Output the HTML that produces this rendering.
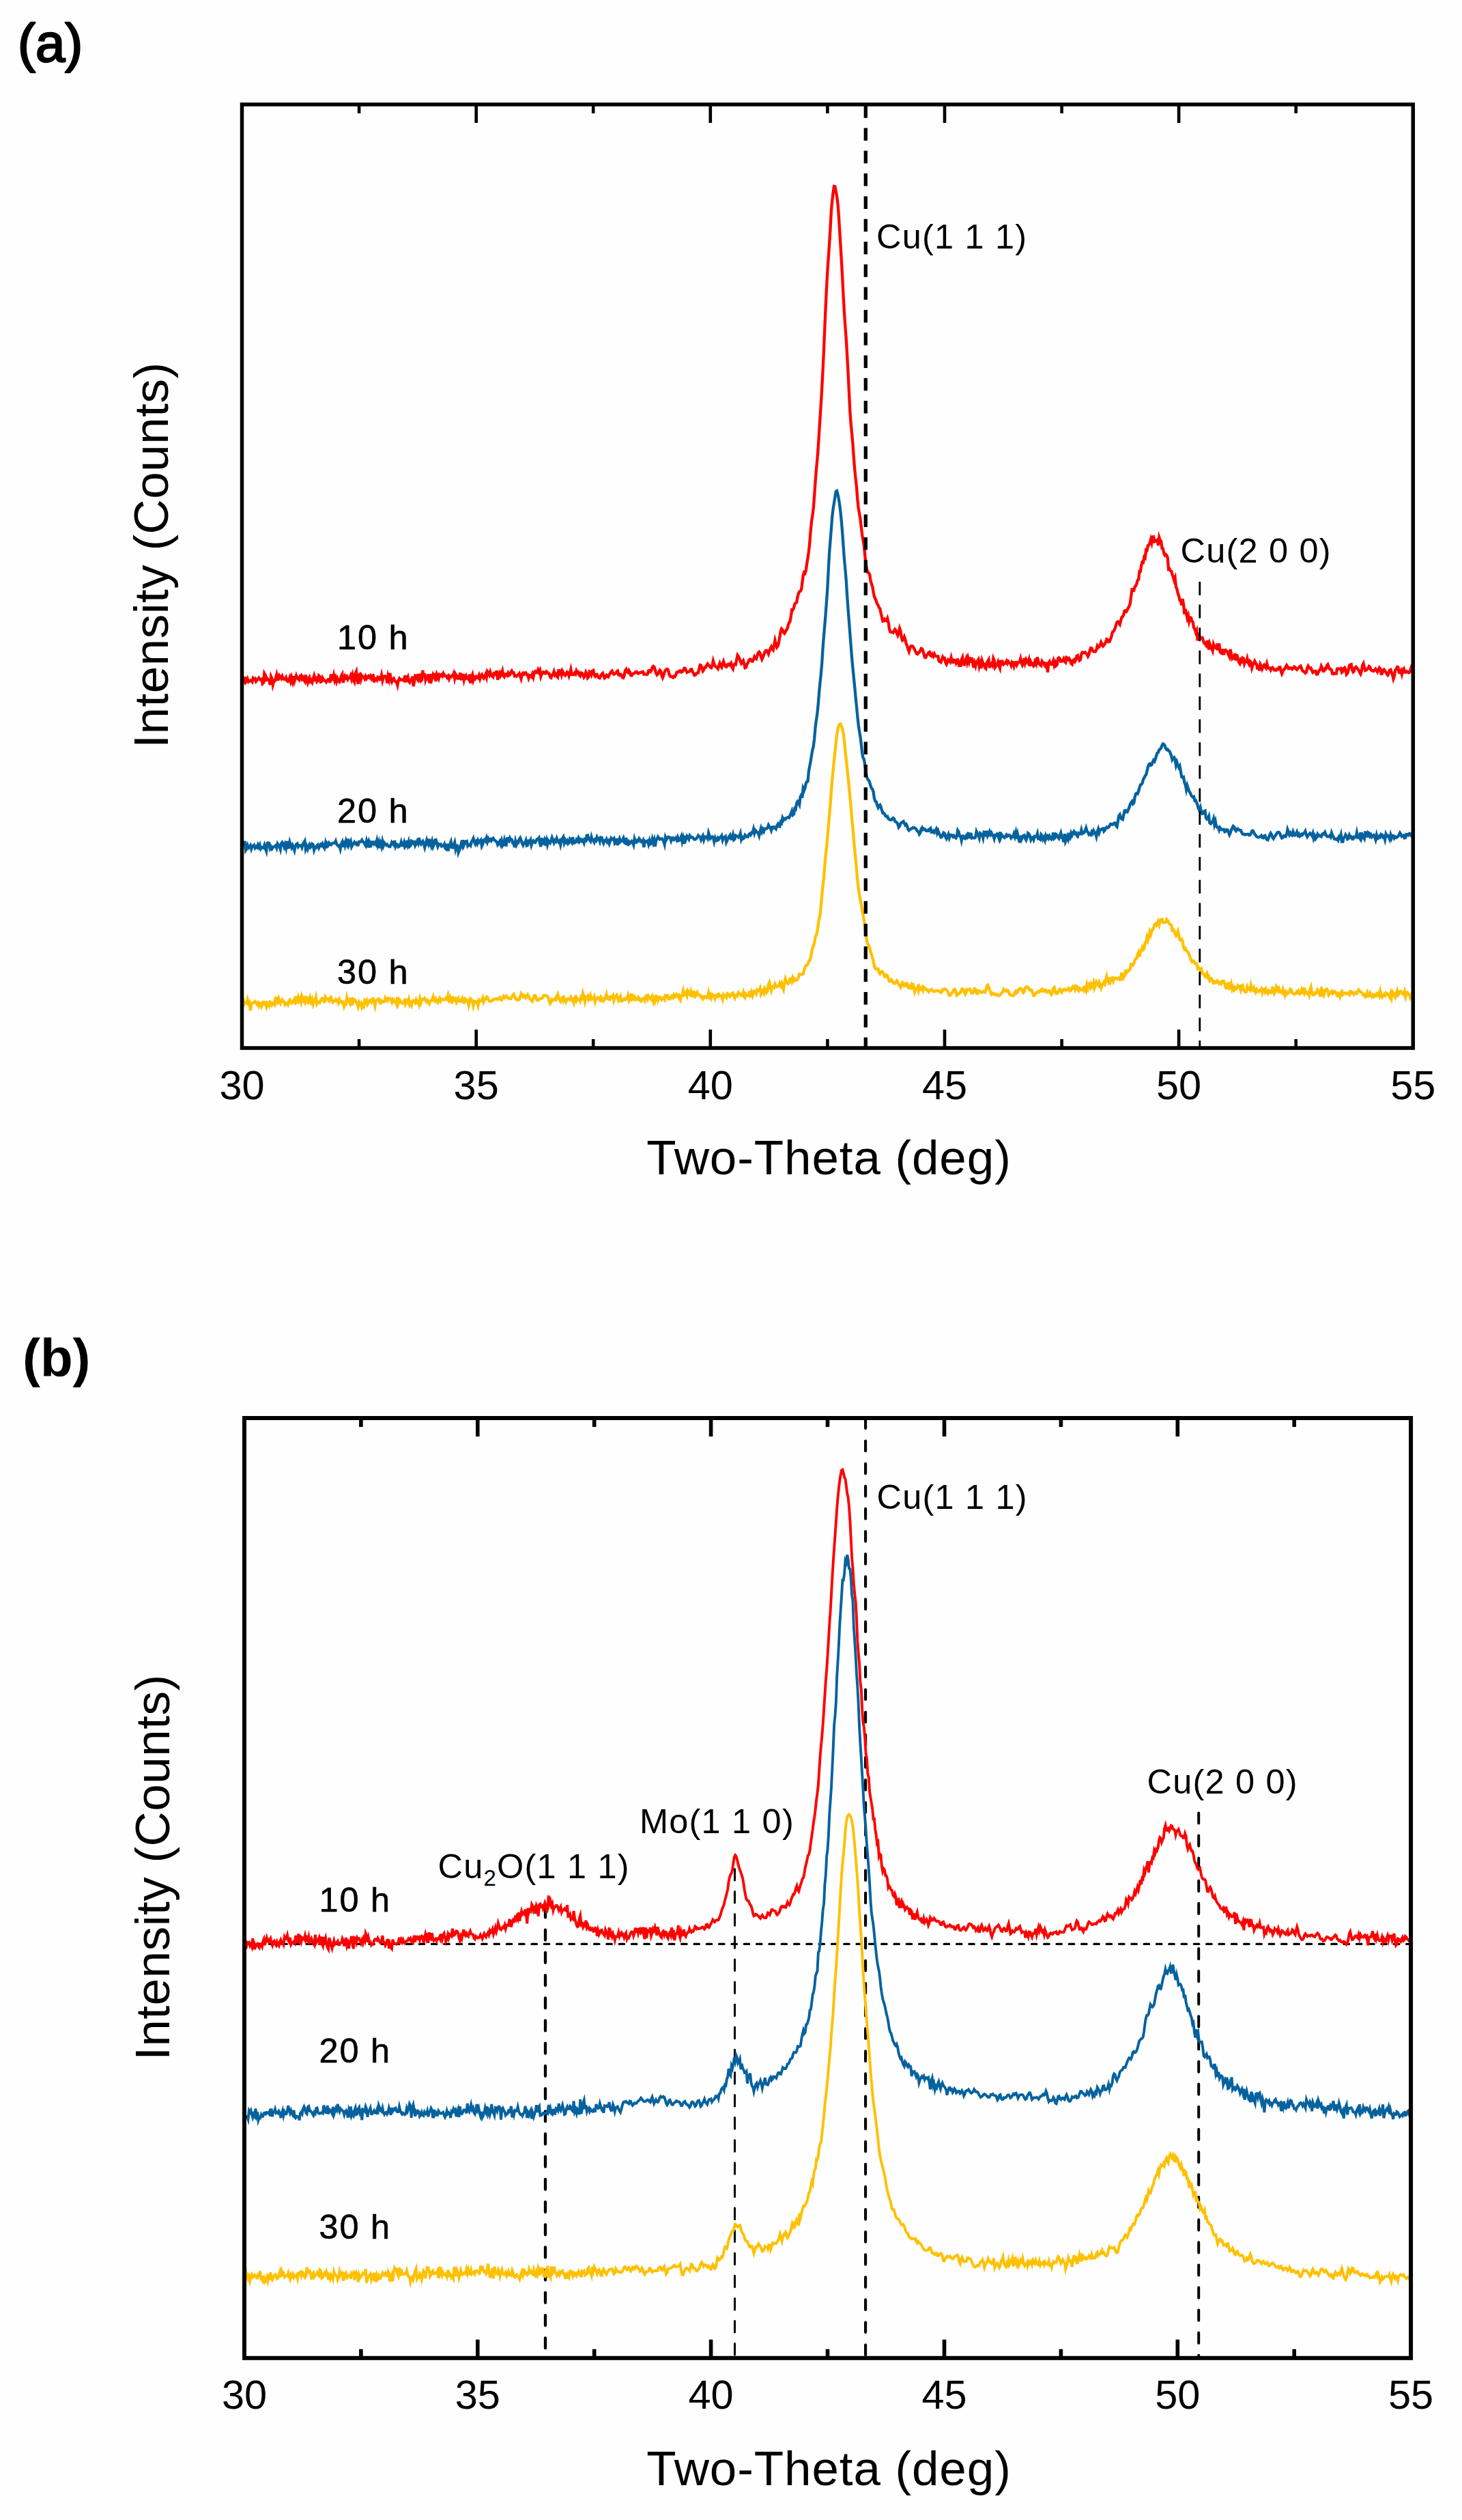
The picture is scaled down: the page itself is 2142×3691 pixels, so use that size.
<!DOCTYPE html>
<html lang="en"><head><meta charset="utf-8"><title>XRD patterns</title>
<style>html,body{margin:0;padding:0;background:#fefefe}svg{display:block}</style></head>
<body>
<svg width="2142" height="3691" viewBox="0 0 2142 3691" font-family="'Liberation Sans', Arial, sans-serif" fill="#000">
<rect width="2142" height="3691" fill="#fefefe"/>
<text x="26" y="90" font-size="78" stroke="#000" stroke-width="2.4" stroke-linejoin="round">(a)</text>
<polyline points="354.5,998.3 355.9,1000.1 357.2,998.2 358.6,991.5 360.0,999.4 361.4,997.7 362.7,994.4 364.1,998.4 365.5,997.3 366.9,997.1 368.2,996.2 369.6,998.3 371.0,993.3 372.3,994.8 373.7,994.0 375.1,998.0 376.5,996.3 377.8,994.8 379.2,992.9 380.6,995.0 382.0,995.7 383.3,994.9 384.7,1001.4 386.1,999.9 387.4,986.3 388.8,988.7 390.2,995.2 391.6,993.8 392.9,995.8 394.3,996.2 395.7,1003.2 397.1,990.9 398.4,993.9 399.8,1003.0 401.2,997.9 402.5,997.7 403.9,993.0 405.3,988.1 406.7,995.2 408.0,994.9 409.4,989.7 410.8,991.6 412.2,993.7 413.5,990.6 414.9,994.4 416.3,995.0 417.6,994.7 419.0,992.4 420.4,997.2 421.8,998.1 423.1,995.7 424.5,992.1 425.9,997.8 427.2,992.5 428.6,997.9 430.0,990.3 431.4,998.0 432.7,994.2 434.1,989.6 435.5,993.2 436.9,994.3 438.2,995.7 439.6,990.3 441.0,989.2 442.3,994.3 443.7,992.3 445.1,995.8 446.5,998.0 447.8,988.4 449.2,995.7 450.6,999.8 452.0,994.2 453.3,992.0 454.7,998.1 456.1,996.4 457.4,999.2 458.8,994.2 460.2,989.7 461.6,994.7 462.9,993.5 464.3,998.4 465.7,997.0 467.1,989.6 468.4,990.9 469.8,998.7 471.2,998.1 472.5,992.8 473.9,995.1 475.3,996.9 476.7,997.2 478.0,998.9 479.4,996.5 480.8,995.1 482.2,995.0 483.5,1000.0 484.9,987.6 486.3,995.4 487.6,995.3 489.0,989.2 490.4,996.5 491.8,992.7 493.1,998.3 494.5,994.0 495.9,997.3 497.3,998.7 498.6,995.3 500.0,990.0 501.4,987.5 502.7,1000.1 504.1,993.2 505.5,990.1 506.9,992.9 508.2,991.2 509.6,995.0 511.0,992.5 512.4,992.7 513.7,989.5 515.1,994.6 516.5,989.1 517.8,996.0 519.2,998.7 520.6,986.8 522.0,983.5 523.3,995.0 524.7,1001.9 526.1,988.4 527.5,987.4 528.8,994.8 530.2,989.7 531.6,991.5 532.9,991.2 534.3,993.9 535.7,990.6 537.1,994.0 538.4,992.2 539.8,990.3 541.2,992.2 542.6,990.1 543.9,993.4 545.3,989.5 546.7,989.2 548.0,999.4 549.4,993.9 550.8,993.7 552.2,995.8 553.5,991.7 554.9,992.1 556.3,995.2 557.7,994.5 559.0,988.9 560.4,996.7 561.8,991.8 563.1,990.4 564.5,990.6 565.9,992.5 567.3,1000.6 568.6,990.5 570.0,995.4 571.4,985.9 572.7,994.9 574.1,998.5 575.5,995.1 576.9,993.7 578.2,996.9 579.6,998.5 581.0,998.6 582.4,1003.6 583.7,996.8 585.1,993.8 586.5,995.6 587.8,995.5 589.2,996.1 590.6,995.5 592.0,996.8 593.3,989.3 594.7,999.1 596.1,993.5 597.5,991.1 598.8,997.6 600.2,999.5 601.6,996.4 602.9,995.3 604.3,990.8 605.7,1005.2 607.1,997.5 608.4,989.8 609.8,990.6 611.2,993.5 612.6,987.2 613.9,994.5 615.3,991.4 616.7,997.3 618.0,996.0 619.4,981.9 620.8,992.4 622.2,986.2 623.5,996.2 624.9,992.5 626.3,993.8 627.7,987.4 629.0,998.7 630.4,999.1 631.8,987.3 633.1,993.1 634.5,988.0 635.9,990.9 637.3,986.0 638.6,997.9 640.0,987.4 641.4,990.0 642.8,993.6 644.1,988.5 645.5,989.8 646.9,988.4 648.2,990.2 649.6,986.4 651.0,988.9 652.4,990.1 653.7,990.4 655.1,992.4 656.5,990.3 657.9,994.3 659.2,990.6 660.6,991.6 662.0,989.9 663.3,990.2 664.7,986.6 666.1,993.6 667.5,987.4 668.8,989.6 670.2,993.5 671.6,993.7 673.0,991.0 674.3,985.4 675.7,994.4 677.1,994.1 678.4,987.2 679.8,995.8 681.2,990.5 682.6,989.1 683.9,993.5 685.3,993.0 686.7,995.0 688.1,987.7 689.4,1000.9 690.8,991.7 692.2,988.1 693.5,996.2 694.9,992.2 696.3,994.0 697.7,991.1 699.0,992.3 700.4,993.1 701.8,989.2 703.2,994.1 704.5,990.1 705.9,988.2 707.3,991.7 708.6,993.4 710.0,990.3 711.4,987.5 712.8,992.0 714.1,983.4 715.5,985.1 716.9,988.3 718.2,984.3 719.6,989.2 721.0,990.2 722.4,991.6 723.7,985.9 725.1,985.5 726.5,987.4 727.9,982.2 729.2,995.9 730.6,987.3 732.0,985.2 733.3,989.6 734.7,986.7 736.1,982.5 737.5,989.7 738.8,991.3 740.2,987.4 741.6,987.2 743.0,989.0 744.3,986.0 745.7,989.2 747.1,988.5 748.4,984.8 749.8,982.7 751.2,985.3 752.6,985.4 753.9,990.1 755.3,989.6 756.7,990.6 758.1,989.1 759.4,987.9 760.8,986.3 762.2,990.6 763.5,994.2 764.9,987.9 766.3,985.9 767.7,987.4 769.0,985.6 770.4,985.4 771.8,988.3 773.2,988.2 774.5,993.1 775.9,989.3 777.3,989.6 778.6,991.1 780.0,987.2 781.4,991.6 782.8,984.8 784.1,983.3 785.5,985.0 786.9,984.9 788.3,981.0 789.6,984.2 791.0,981.6 792.4,990.8 793.7,987.3 795.1,984.7 796.5,984.4 797.9,986.2 799.2,986.4 800.6,983.6 802.0,984.7 803.4,986.4 804.7,986.8 806.1,991.7 807.5,992.6 808.8,988.7 810.2,987.9 811.6,983.8 813.0,988.7 814.3,987.3 815.7,990.3 817.1,991.8 818.5,980.6 819.8,986.2 821.2,984.2 822.6,988.5 823.9,982.5 825.3,984.9 826.7,988.1 828.1,989.3 829.4,987.4 830.8,984.4 832.2,985.6 833.6,990.0 834.9,986.1 836.3,980.5 837.7,987.7 839.0,987.8 840.4,988.1 841.8,985.8 843.2,987.4 844.5,982.5 845.9,985.5 847.3,984.6 848.7,988.6 850.0,990.0 851.4,985.5 852.8,986.0 854.1,988.2 855.5,991.8 856.9,989.5 858.3,984.7 859.6,987.7 861.0,993.0 862.4,991.3 863.7,983.7 865.1,984.4 866.5,988.0 867.9,982.8 869.2,982.0 870.6,988.2 872.0,990.4 873.4,988.2 874.7,987.7 876.1,991.3 877.5,992.9 878.8,993.1 880.2,989.8 881.6,987.5 883.0,986.0 884.3,989.5 885.7,993.0 887.1,991.6 888.5,989.2 889.8,990.9 891.2,991.6 892.6,988.3 893.9,986.5 895.3,983.9 896.7,982.7 898.1,985.8 899.4,987.5 900.8,986.9 902.2,986.0 903.6,983.6 904.9,982.6 906.3,988.4 907.7,989.1 909.0,987.6 910.4,988.2 911.8,992.2 913.2,992.8 914.5,989.6 915.9,982.5 917.3,980.4 918.7,983.8 920.0,984.9 921.4,981.9 922.8,984.3 924.1,989.0 925.5,989.4 926.9,987.1 928.3,986.5 929.6,986.0 931.0,984.3 932.4,983.8 933.8,985.8 935.1,986.5 936.5,985.6 937.9,985.2 939.2,984.9 940.6,984.0 942.0,983.8 943.4,987.5 944.7,987.3 946.1,987.6 947.5,988.1 948.9,987.1 950.2,982.3 951.6,982.2 953.0,983.9 954.3,982.3 955.7,977.3 957.1,975.8 958.5,976.8 959.8,981.0 961.2,985.9 962.6,988.6 964.0,987.3 965.3,984.1 966.7,981.6 968.1,983.1 969.4,989.2 970.8,992.7 972.2,989.2 973.6,984.2 974.9,982.0 976.3,980.1 977.7,979.8 979.1,981.7 980.4,987.5 981.8,990.6 983.2,990.7 984.5,991.5 985.9,992.4 987.3,990.5 988.7,991.2 990.0,989.1 991.4,984.9 992.8,984.0 994.2,984.2 995.5,982.7 996.9,982.6 998.3,984.5 999.6,983.8 1001.0,981.9 1002.4,978.8 1003.8,978.9 1005.1,982.0 1006.5,984.8 1007.9,984.1 1009.2,984.0 1010.6,983.0 1012.0,980.4 1013.4,980.3 1014.7,984.2 1016.1,985.9 1017.5,989.1 1018.9,988.7 1020.2,986.6 1021.6,985.5 1023.0,985.3 1024.3,979.8 1025.7,974.1 1027.1,974.6 1028.5,979.1 1029.8,982.9 1031.2,980.9 1032.6,977.5 1034.0,977.4 1035.3,974.4 1036.7,972.2 1038.1,974.1 1039.4,975.5 1040.8,977.3 1042.2,978.1 1043.6,974.1 1044.9,967.9 1046.3,972.6 1047.7,975.6 1049.1,976.8 1050.4,977.8 1051.8,979.5 1053.2,975.0 1054.5,971.4 1055.9,975.0 1057.3,977.2 1058.7,972.3 1060.0,968.7 1061.4,973.3 1062.8,976.1 1064.2,976.8 1065.5,973.6 1066.9,972.8 1068.3,974.1 1069.6,972.3 1071.0,970.9 1072.4,977.5 1073.8,979.7 1075.1,973.6 1076.5,972.7 1077.9,973.3 1079.3,965.9 1080.6,959.6 1082.0,961.5 1083.4,964.6 1084.7,968.4 1086.1,971.7 1087.5,969.8 1088.9,967.6 1090.2,972.0 1091.6,978.1 1093.0,977.6 1094.4,972.9 1095.7,971.2 1097.1,967.3 1098.5,965.6 1099.8,965.6 1101.2,968.4 1102.6,968.6 1104.0,966.2 1105.3,961.9 1106.7,963.9 1108.1,964.9 1109.5,959.8 1110.8,956.4 1112.2,954.9 1113.6,956.9 1114.9,962.1 1116.3,965.7 1117.7,962.7 1119.1,959.0 1120.4,955.5 1121.8,953.0 1123.2,952.8 1124.6,955.1 1125.9,957.9 1127.3,953.7 1128.7,949.8 1130.0,947.3 1131.4,950.5 1132.8,952.1 1134.2,944.9 1135.5,937.9 1136.9,943.2 1138.3,947.9 1139.7,946.0 1141.0,941.2 1142.4,932.8 1143.8,924.5 1145.1,921.0 1146.5,922.5 1147.9,926.0 1149.3,927.8 1150.6,925.6 1152.0,923.2 1153.4,920.8 1154.7,915.9 1156.1,912.0 1157.5,910.5 1158.9,902.1 1160.2,893.1 1161.6,893.4 1163.0,890.6 1164.4,884.5 1165.7,883.1 1167.1,882.3 1168.5,874.4 1169.8,869.5 1171.2,866.5 1172.6,866.0 1174.0,864.0 1175.3,854.5 1176.7,842.8 1178.1,838.3 1179.5,839.6 1180.8,835.6 1182.2,825.4 1183.6,816.6 1184.9,808.3 1186.3,795.1 1187.7,777.2 1189.1,763.1 1190.4,755.2 1191.8,743.9 1193.2,725.6 1194.6,704.8 1195.9,688.6 1197.3,673.8 1198.7,656.8 1200.0,635.4 1201.4,614.0 1202.8,592.4 1204.2,568.7 1205.5,544.0 1206.9,514.5 1208.3,480.9 1209.7,448.8 1211.0,421.7 1212.4,397.0 1213.8,376.3 1215.1,357.6 1216.5,334.8 1217.9,308.6 1219.3,293.7 1220.6,282.4 1222.0,272.9 1223.4,273.3 1224.8,280.7 1226.1,287.4 1227.5,298.2 1228.9,316.7 1230.2,338.3 1231.6,360.4 1233.0,384.3 1234.4,409.6 1235.7,435.8 1237.1,459.4 1238.5,479.7 1239.9,498.5 1241.2,521.2 1242.6,546.5 1244.0,575.3 1245.3,601.6 1246.7,620.8 1248.1,635.2 1249.5,650.9 1250.8,669.4 1252.2,687.1 1253.6,700.9 1255.0,713.5 1256.3,730.7 1257.7,744.3 1259.1,752.4 1260.4,759.7 1261.8,772.0 1263.2,783.6 1264.6,791.8 1265.9,798.7 1267.3,813.9 1268.7,827.2 1270.1,834.0 1271.4,838.4 1272.8,838.9 1274.2,841.7 1275.5,850.2 1276.9,855.3 1278.3,859.0 1279.7,868.2 1281.0,873.9 1282.4,877.0 1283.8,880.0 1285.1,884.6 1286.5,886.3 1287.9,890.0 1289.3,891.3 1290.6,897.8 1292.0,904.0 1293.4,909.7 1294.8,909.3 1296.1,907.1 1297.5,908.8 1298.9,909.3 1300.2,905.9 1301.6,911.3 1303.0,921.5 1304.4,925.5 1305.7,925.7 1307.1,926.0 1308.5,926.7 1309.9,924.4 1311.2,921.8 1312.6,923.3 1314.0,927.8 1315.3,930.6 1316.7,926.8 1318.1,920.4 1319.5,924.5 1320.8,933.7 1322.2,937.9 1323.6,937.0 1325.0,933.1 1326.3,936.7 1327.7,942.9 1329.1,946.0 1330.4,950.6 1331.8,954.3 1333.2,949.1 1334.6,946.4 1335.9,946.1 1337.3,946.4 1338.7,948.7 1340.1,951.7 1341.4,954.4 1342.8,957.4 1344.2,958.0 1345.5,955.8 1346.9,955.6 1348.3,952.6 1349.7,949.9 1351.0,950.5 1352.4,953.3 1353.8,959.4 1355.2,963.0 1356.5,962.8 1357.9,959.3 1359.3,958.3 1360.6,955.6 1362.0,955.0 1363.4,960.3 1364.8,961.0 1366.1,958.4 1367.5,961.1 1368.9,957.9 1370.3,960.9 1371.6,961.2 1373.0,961.4 1374.4,961.4 1375.7,968.4 1377.1,968.9 1378.5,970.0 1379.9,966.2 1381.2,962.3 1382.6,964.5 1384.0,964.0 1385.4,970.4 1386.7,972.9 1388.1,970.1 1389.5,966.1 1390.8,967.0 1392.2,969.2 1393.6,963.5 1395.0,969.5 1396.3,969.9 1397.7,966.8 1399.1,967.4 1400.5,970.8 1401.8,966.7 1403.2,966.4 1404.6,972.8 1405.9,971.0 1407.3,976.6 1408.7,966.3 1410.1,963.0 1411.4,972.7 1412.8,973.3 1414.2,967.3 1415.6,964.0 1416.9,970.0 1418.3,963.8 1419.7,969.0 1421.0,962.5 1422.4,970.6 1423.8,963.2 1425.2,971.0 1426.5,977.9 1427.9,971.1 1429.3,975.3 1430.6,969.3 1432.0,968.5 1433.4,966.1 1434.8,976.1 1436.1,972.1 1437.5,978.8 1438.9,967.7 1440.3,971.7 1441.6,972.7 1443.0,977.9 1444.4,979.3 1445.7,970.5 1447.1,968.7 1448.5,966.2 1449.9,978.2 1451.2,973.4 1452.6,971.8 1454.0,974.3 1455.4,964.4 1456.7,967.4 1458.1,977.3 1459.5,975.0 1460.8,973.7 1462.2,969.8 1463.6,975.1 1465.0,978.7 1466.3,967.1 1467.7,971.9 1469.1,969.9 1470.5,973.0 1471.8,971.6 1473.2,971.2 1474.6,968.3 1475.9,971.6 1477.3,969.1 1478.7,971.1 1480.1,971.5 1481.4,974.7 1482.8,969.6 1484.2,970.7 1485.6,975.5 1486.9,970.6 1488.3,970.2 1489.7,974.1 1491.0,971.3 1492.4,969.8 1493.8,969.8 1495.2,964.7 1496.5,970.6 1497.9,974.2 1499.3,971.5 1500.7,963.9 1502.0,971.0 1503.4,966.3 1504.8,969.2 1506.1,971.0 1507.5,966.4 1508.9,975.7 1510.3,969.8 1511.6,972.8 1513.0,972.2 1514.4,975.6 1515.8,974.6 1517.1,964.4 1518.5,970.2 1519.9,962.4 1521.2,968.6 1522.6,972.7 1524.0,973.6 1525.4,974.8 1526.7,968.6 1528.1,970.7 1529.5,970.9 1530.9,975.3 1532.2,976.6 1533.6,970.0 1535.0,984.7 1536.3,971.3 1537.7,968.9 1539.1,972.7 1540.5,973.1 1541.8,971.4 1543.2,967.6 1544.6,974.5 1546.0,970.8 1547.3,975.1 1548.7,973.8 1550.1,964.4 1551.4,963.3 1552.8,964.6 1554.2,968.6 1555.6,968.7 1556.9,967.7 1558.3,965.0 1559.7,968.7 1561.1,970.2 1562.4,963.0 1563.8,963.7 1565.2,966.1 1566.5,964.7 1567.9,967.1 1569.3,971.9 1570.7,973.1 1572.0,967.4 1573.4,966.3 1574.8,968.9 1576.1,966.7 1577.5,960.8 1578.9,960.0 1580.3,964.6 1581.6,967.5 1583.0,966.2 1584.4,957.7 1585.8,955.4 1587.1,956.2 1588.5,955.9 1589.9,955.3 1591.2,957.0 1592.6,958.3 1594.0,961.3 1595.4,958.6 1596.7,952.6 1598.1,949.0 1599.5,949.4 1600.9,953.4 1602.2,954.2 1603.6,954.1 1605.0,954.2 1606.3,951.8 1607.7,946.2 1609.1,948.4 1610.5,947.5 1611.8,944.5 1613.2,940.7 1614.6,943.7 1616.0,946.4 1617.3,945.1 1618.7,942.9 1620.1,940.3 1621.4,936.2 1622.8,936.8 1624.2,940.1 1625.6,939.9 1626.9,936.6 1628.3,932.7 1629.7,926.3 1631.1,924.8 1632.4,923.3 1633.8,919.7 1635.2,915.2 1636.5,911.2 1637.9,910.5 1639.3,912.5 1640.7,914.6 1642.0,909.4 1643.4,904.2 1644.8,903.3 1646.2,900.6 1647.5,894.7 1648.9,894.4 1650.3,895.6 1651.6,893.1 1653.0,890.6 1654.4,888.0 1655.8,883.9 1657.1,873.7 1658.5,863.5 1659.9,863.7 1661.3,864.4 1662.6,859.7 1664.0,857.8 1665.4,854.9 1666.7,850.0 1668.1,848.9 1669.5,836.8 1670.9,836.8 1672.2,828.5 1673.6,823.2 1675.0,823.7 1676.4,815.8 1677.7,817.0 1679.1,805.4 1680.5,805.9 1681.8,799.0 1683.2,798.4 1684.6,795.5 1686.0,790.2 1687.3,794.8 1688.7,786.3 1690.1,786.1 1691.5,793.1 1692.8,792.5 1694.2,791.7 1695.6,790.7 1696.9,799.0 1698.3,787.0 1699.7,791.1 1701.1,792.5 1702.4,802.9 1703.8,803.2 1705.2,809.9 1706.6,813.2 1707.9,811.9 1709.3,813.4 1710.7,816.9 1712.0,833.6 1713.4,833.0 1714.8,835.9 1716.2,836.5 1717.5,841.6 1718.9,845.3 1720.3,850.1 1721.6,846.7 1723.0,859.8 1724.4,863.0 1725.8,869.4 1727.1,872.6 1728.5,879.2 1729.9,880.3 1731.3,886.4 1732.6,877.1 1734.0,885.3 1735.4,899.7 1736.7,892.0 1738.1,898.6 1739.5,905.5 1740.9,901.6 1742.2,909.9 1743.6,904.4 1745.0,904.9 1746.4,909.9 1747.7,911.0 1749.1,919.5 1750.5,921.2 1751.8,925.9 1753.2,923.1 1754.6,938.4 1756.0,930.0 1757.3,931.7 1758.7,935.0 1760.1,934.4 1761.5,934.1 1762.8,937.9 1764.2,942.1 1765.6,942.9 1766.9,945.0 1768.3,940.0 1769.7,939.9 1771.1,951.5 1772.4,943.1 1773.8,947.3 1775.2,949.7 1776.6,953.2 1777.9,943.9 1779.3,947.8 1780.7,948.7 1782.0,949.6 1783.4,942.6 1784.8,952.4 1786.2,942.4 1787.5,954.6 1788.9,956.2 1790.3,957.0 1791.7,950.7 1793.0,959.1 1794.4,952.6 1795.8,952.1 1797.1,953.6 1798.5,954.9 1799.9,959.0 1801.3,962.0 1802.6,951.1 1804.0,958.0 1805.4,964.3 1806.8,962.4 1808.1,963.7 1809.5,957.0 1810.9,967.5 1812.2,958.3 1813.6,965.3 1815.0,969.7 1816.4,971.8 1817.7,966.5 1819.1,968.4 1820.5,963.7 1821.9,964.6 1823.2,972.0 1824.6,968.4 1826.0,968.9 1827.3,964.3 1828.7,970.4 1830.1,973.1 1831.5,968.5 1832.8,969.8 1834.2,978.1 1835.6,973.6 1837.0,972.1 1838.3,968.5 1839.7,971.3 1841.1,973.2 1842.4,980.4 1843.8,973.8 1845.2,982.5 1846.6,972.9 1847.9,975.3 1849.3,979.6 1850.7,976.0 1852.1,974.0 1853.4,976.4 1854.8,978.4 1856.2,972.2 1857.5,977.1 1858.9,978.7 1860.3,978.6 1861.7,981.3 1863.0,978.4 1864.4,977.7 1865.8,979.6 1867.1,981.4 1868.5,980.7 1869.9,981.6 1871.3,979.8 1872.6,980.1 1874.0,977.5 1875.4,977.2 1876.8,983.2 1878.1,986.8 1879.5,983.6 1880.9,980.5 1882.2,979.9 1883.6,977.0 1885.0,974.4 1886.4,976.4 1887.7,979.2 1889.1,979.1 1890.5,978.1 1891.9,978.5 1893.2,980.2 1894.6,979.3 1896.0,976.6 1897.3,977.0 1898.7,979.5 1900.1,980.8 1901.5,979.0 1902.8,978.2 1904.2,976.4 1905.6,975.5 1907.0,979.0 1908.3,982.5 1909.7,983.5 1911.1,983.9 1912.4,985.9 1913.8,985.0 1915.2,978.7 1916.6,975.5 1917.9,977.8 1919.3,979.0 1920.7,978.5 1922.1,982.1 1923.4,984.8 1924.8,983.7 1926.2,983.0 1927.5,983.0 1928.9,987.5 1930.3,987.4 1931.7,984.1 1933.0,981.8 1934.4,980.8 1935.8,975.7 1937.2,978.7 1938.5,982.9 1939.9,982.9 1941.3,979.3 1942.6,979.5 1944.0,974.9 1945.4,973.3 1946.8,977.2 1948.1,979.9 1949.5,980.0 1950.9,981.4 1952.3,987.1 1953.6,987.3 1955.0,986.3 1956.4,986.6 1957.7,986.6 1959.1,979.5 1960.5,979.2 1961.9,979.9 1963.2,979.5 1964.6,979.0 1966.0,984.8 1967.4,983.6 1968.7,979.0 1970.1,977.9 1971.5,981.0 1972.8,987.8 1974.2,986.2 1975.6,981.5 1977.0,974.6 1978.3,973.6 1979.7,973.1 1981.1,980.8 1982.5,984.3 1983.8,983.2 1985.2,977.7 1986.6,976.7 1987.9,978.5 1989.3,979.6 1990.7,981.7 1992.1,985.1 1993.4,987.3 1994.8,982.8 1996.2,974.5 1997.6,971.8 1998.9,977.3 2000.3,982.1 2001.7,981.5 2003.0,979.7 2004.4,979.1 2005.8,975.9 2007.2,976.8 2008.5,981.1 2009.9,982.2 2011.3,982.1 2012.6,983.0 2014.0,981.6 2015.4,979.8 2016.8,982.0 2018.1,984.2 2019.5,981.3 2020.9,978.1 2022.3,979.6 2023.6,986.9 2025.0,986.6 2026.4,981.8 2027.7,980.7 2029.1,982.5 2030.5,984.5 2031.9,987.2 2033.2,988.7 2034.6,985.9 2036.0,981.5 2037.4,980.9 2038.7,984.5 2040.1,988.4 2041.5,994.2 2042.8,990.4 2044.2,981.5 2045.6,980.5 2047.0,977.0 2048.3,977.2 2049.7,984.9 2051.1,985.3 2052.5,982.7 2053.8,987.3 2055.2,980.7 2056.6,979.3 2057.9,984.6 2059.3,984.8 2060.7,983.2 2062.1,984.1 2063.4,985.2 2064.8,985.0 2066.2,982.3 2067.6,977.6 2068.9,980.1 2070.3,986.2" fill="none" stroke="#FF0000" stroke-width="4.3" stroke-linejoin="miter" stroke-miterlimit="5"/>
<polyline points="354.5,1240.0 355.9,1237.5 357.2,1238.0 358.6,1232.0 360.0,1245.3 361.4,1243.0 362.7,1238.2 364.1,1241.9 365.5,1240.7 366.9,1238.5 368.2,1243.2 369.6,1239.2 371.0,1239.6 372.3,1238.0 373.7,1242.1 375.1,1240.3 376.5,1241.3 377.8,1237.6 379.2,1240.7 380.6,1237.6 382.0,1243.1 383.3,1241.2 384.7,1241.6 386.1,1242.1 387.4,1238.1 388.8,1242.8 390.2,1246.6 391.6,1234.9 392.9,1234.3 394.3,1235.1 395.7,1242.7 397.1,1240.4 398.4,1243.4 399.8,1241.7 401.2,1240.0 402.5,1239.8 403.9,1238.6 405.3,1241.9 406.7,1235.7 408.0,1237.6 409.4,1239.3 410.8,1243.8 412.2,1235.4 413.5,1233.6 414.9,1235.6 416.3,1240.3 417.6,1236.8 419.0,1241.9 420.4,1232.0 421.8,1241.5 423.1,1241.2 424.5,1233.6 425.9,1238.2 427.2,1241.5 428.6,1238.0 430.0,1241.1 431.4,1245.5 432.7,1239.2 434.1,1236.6 435.5,1235.7 436.9,1240.1 438.2,1238.1 439.6,1238.4 441.0,1238.6 442.3,1241.4 443.7,1235.8 445.1,1234.5 446.5,1232.0 447.8,1243.3 449.2,1239.5 450.6,1243.5 452.0,1238.9 453.3,1236.9 454.7,1241.3 456.1,1240.1 457.4,1236.2 458.8,1237.3 460.2,1245.1 461.6,1241.1 462.9,1241.6 464.3,1238.9 465.7,1237.5 467.1,1241.8 468.4,1238.8 469.8,1236.8 471.2,1238.5 472.5,1235.9 473.9,1239.4 475.3,1242.1 476.7,1235.7 478.0,1242.4 479.4,1235.8 480.8,1237.9 482.2,1234.7 483.5,1236.7 484.9,1237.5 486.3,1235.9 487.6,1234.9 489.0,1234.8 490.4,1234.7 491.8,1231.8 493.1,1236.1 494.5,1238.1 495.9,1239.3 497.3,1238.4 498.6,1243.3 500.0,1236.5 501.4,1233.4 502.7,1240.9 504.1,1231.3 505.5,1237.7 506.9,1231.8 508.2,1235.6 509.6,1228.7 511.0,1237.8 512.4,1234.6 513.7,1232.0 515.1,1240.1 516.5,1237.4 517.8,1235.5 519.2,1233.4 520.6,1235.7 522.0,1234.7 523.3,1237.5 524.7,1237.5 526.1,1232.9 527.5,1233.1 528.8,1232.8 530.2,1230.4 531.6,1232.6 532.9,1233.4 534.3,1236.1 535.7,1238.4 537.1,1231.7 538.4,1236.3 539.8,1232.9 541.2,1241.3 542.6,1234.8 543.9,1237.2 545.3,1233.3 546.7,1233.3 548.0,1236.1 549.4,1234.3 550.8,1236.6 552.2,1231.1 553.5,1237.8 554.9,1233.5 556.3,1241.9 557.7,1235.8 559.0,1240.1 560.4,1232.4 561.8,1238.3 563.1,1234.5 564.5,1236.3 565.9,1237.9 567.3,1236.8 568.6,1238.8 570.0,1239.9 571.4,1240.1 572.7,1237.9 574.1,1233.7 575.5,1235.4 576.9,1237.3 578.2,1231.2 579.6,1239.6 581.0,1236.5 582.4,1236.9 583.7,1240.3 585.1,1239.5 586.5,1238.0 587.8,1233.4 589.2,1238.2 590.6,1238.5 592.0,1234.3 593.3,1240.7 594.7,1239.0 596.1,1231.0 597.5,1237.3 598.8,1232.7 600.2,1239.6 601.6,1238.3 602.9,1231.8 604.3,1232.5 605.7,1235.0 607.1,1233.7 608.4,1238.5 609.8,1235.9 611.2,1232.3 612.6,1235.2 613.9,1227.2 615.3,1234.5 616.7,1236.4 618.0,1233.6 619.4,1232.1 620.8,1236.0 622.2,1241.1 623.5,1235.9 624.9,1231.5 626.3,1239.2 627.7,1228.7 629.0,1236.3 630.4,1233.5 631.8,1238.3 633.1,1232.9 634.5,1239.9 635.9,1236.6 637.3,1230.4 638.6,1230.0 640.0,1235.1 641.4,1239.8 642.8,1236.2 644.1,1236.9 645.5,1236.4 646.9,1239.5 648.2,1238.9 649.6,1239.3 651.0,1236.6 652.4,1242.6 653.7,1243.6 655.1,1235.8 656.5,1246.2 657.9,1240.6 659.2,1236.9 660.6,1233.1 662.0,1241.1 663.3,1241.4 664.7,1237.6 666.1,1233.8 667.5,1243.3 668.8,1238.4 670.2,1238.8 671.6,1248.7 673.0,1245.1 674.3,1241.2 675.7,1235.9 677.1,1239.2 678.4,1230.3 679.8,1237.5 681.2,1234.1 682.6,1232.3 683.9,1231.9 685.3,1238.8 686.7,1237.1 688.1,1237.2 689.4,1238.6 690.8,1232.9 692.2,1230.9 693.5,1228.0 694.9,1233.1 696.3,1236.2 697.7,1233.0 699.0,1235.7 700.4,1230.9 701.8,1233.7 703.2,1232.0 704.5,1230.4 705.9,1239.2 707.3,1236.2 708.6,1230.8 710.0,1229.6 711.4,1231.7 712.8,1227.5 714.1,1232.7 715.5,1228.5 716.9,1231.0 718.2,1229.6 719.6,1231.4 721.0,1228.5 722.4,1227.6 723.7,1230.1 725.1,1230.8 726.5,1232.1 727.9,1233.2 729.2,1237.3 730.6,1235.4 732.0,1232.6 733.3,1236.1 734.7,1231.4 736.1,1238.6 737.5,1236.3 738.8,1230.9 740.2,1237.5 741.6,1237.7 743.0,1226.4 744.3,1231.7 745.7,1232.4 747.1,1227.6 748.4,1229.9 749.8,1229.9 751.2,1234.5 752.6,1233.9 753.9,1241.1 755.3,1231.9 756.7,1236.7 758.1,1233.1 759.4,1233.9 760.8,1229.3 762.2,1227.3 763.5,1230.4 764.9,1235.0 766.3,1237.9 767.7,1234.8 769.0,1234.7 770.4,1231.1 771.8,1238.5 773.2,1237.8 774.5,1232.1 775.9,1233.1 777.3,1230.3 778.6,1237.7 780.0,1233.6 781.4,1231.6 782.8,1233.4 784.1,1234.0 785.5,1231.4 786.9,1229.1 788.3,1229.3 789.6,1227.4 791.0,1234.7 792.4,1240.1 793.7,1227.5 795.1,1233.9 796.5,1235.2 797.9,1230.3 799.2,1234.0 800.6,1229.9 802.0,1236.9 803.4,1231.2 804.7,1232.8 806.1,1234.7 807.5,1231.8 808.8,1227.0 810.2,1230.6 811.6,1234.4 813.0,1231.0 814.3,1232.4 815.7,1228.1 817.1,1232.0 818.5,1233.7 819.8,1231.8 821.2,1237.2 822.6,1230.5 823.9,1228.0 825.3,1225.8 826.7,1234.4 828.1,1230.7 829.4,1233.3 830.8,1231.4 832.2,1235.6 833.6,1234.3 834.9,1229.2 836.3,1231.3 837.7,1233.6 839.0,1226.1 840.4,1234.9 841.8,1234.6 843.2,1233.7 844.5,1230.1 845.9,1231.8 847.3,1227.9 848.7,1232.1 850.0,1229.5 851.4,1231.7 852.8,1230.1 854.1,1231.8 855.5,1234.7 856.9,1226.9 858.3,1233.8 859.6,1223.9 861.0,1223.5 862.4,1229.1 863.7,1230.3 865.1,1232.2 866.5,1225.9 867.9,1230.7 869.2,1230.3 870.6,1233.5 872.0,1229.7 873.4,1231.2 874.7,1226.3 876.1,1229.2 877.5,1228.3 878.8,1232.3 880.2,1226.5 881.6,1226.8 883.0,1231.3 884.3,1234.9 885.7,1231.3 887.1,1231.6 888.5,1229.1 889.8,1233.3 891.2,1231.7 892.6,1235.6 893.9,1231.7 895.3,1227.8 896.7,1229.7 898.1,1228.8 899.4,1227.7 900.8,1235.5 902.2,1234.3 903.6,1228.1 904.9,1237.9 906.3,1232.8 907.7,1228.7 909.0,1232.9 910.4,1231.7 911.8,1230.6 913.2,1227.8 914.5,1234.0 915.9,1234.9 917.3,1227.2 918.7,1235.7 920.0,1236.7 921.4,1233.0 922.8,1235.2 924.1,1234.0 925.5,1232.0 926.9,1233.3 928.3,1237.3 929.6,1229.0 931.0,1233.5 932.4,1233.8 933.8,1230.9 935.1,1231.7 936.5,1228.3 937.9,1230.1 939.2,1232.8 940.6,1233.6 942.0,1231.2 943.4,1240.9 944.7,1232.0 946.1,1233.2 947.5,1232.2 948.9,1231.4 950.2,1236.4 951.6,1231.3 953.0,1236.2 954.3,1235.2 955.7,1229.0 957.1,1234.4 958.5,1230.3 959.8,1239.8 961.2,1231.1 962.6,1228.7 964.0,1225.8 965.3,1227.6 966.7,1229.3 968.1,1228.7 969.4,1228.3 970.8,1229.9 972.2,1232.0 973.6,1236.6 974.9,1226.5 976.3,1229.9 977.7,1227.5 979.1,1225.9 980.4,1226.4 981.8,1226.8 983.2,1231.4 984.5,1227.9 985.9,1227.3 987.3,1229.9 988.7,1228.8 990.0,1227.3 991.4,1230.1 992.8,1226.5 994.2,1231.2 995.5,1230.8 996.9,1227.8 998.3,1224.7 999.6,1232.5 1001.0,1227.8 1002.4,1236.0 1003.8,1224.2 1005.1,1228.7 1006.5,1224.8 1007.9,1226.9 1009.2,1229.1 1010.6,1224.0 1012.0,1225.9 1013.4,1226.5 1014.7,1226.5 1016.1,1228.3 1017.5,1229.6 1018.9,1229.4 1020.2,1228.0 1021.6,1226.4 1023.0,1223.7 1024.3,1225.1 1025.7,1225.9 1027.1,1229.9 1028.5,1226.4 1029.8,1224.1 1031.2,1230.1 1032.6,1225.8 1034.0,1225.6 1035.3,1226.7 1036.7,1228.6 1038.1,1219.9 1039.4,1223.8 1040.8,1228.1 1042.2,1226.5 1043.6,1225.5 1044.9,1226.8 1046.3,1232.8 1047.7,1227.5 1049.1,1231.2 1050.4,1231.1 1051.8,1227.3 1053.2,1229.0 1054.5,1226.6 1055.9,1226.3 1057.3,1224.1 1058.7,1230.4 1060.0,1226.9 1061.4,1226.3 1062.8,1225.1 1064.2,1233.5 1065.5,1230.7 1066.9,1227.4 1068.3,1225.4 1069.6,1223.3 1071.0,1228.5 1072.4,1228.5 1073.8,1223.1 1075.1,1230.1 1076.5,1229.0 1077.9,1223.7 1079.3,1224.5 1080.6,1224.7 1082.0,1226.3 1083.4,1224.6 1084.7,1220.7 1086.1,1229.5 1087.5,1226.3 1088.9,1228.3 1090.2,1227.4 1091.6,1223.2 1093.0,1224.7 1094.4,1225.6 1095.7,1225.7 1097.1,1222.2 1098.5,1221.2 1099.8,1222.7 1101.2,1219.6 1102.6,1219.9 1104.0,1214.6 1105.3,1220.3 1106.7,1216.2 1108.1,1217.7 1109.5,1219.4 1110.8,1219.6 1112.2,1224.0 1113.6,1218.1 1114.9,1213.4 1116.3,1218.2 1117.7,1214.7 1119.1,1217.6 1120.4,1213.9 1121.8,1213.7 1123.2,1213.6 1124.6,1212.5 1125.9,1208.4 1127.3,1210.8 1128.7,1212.7 1130.0,1216.2 1131.4,1211.6 1132.8,1211.2 1134.2,1212.6 1135.5,1211.8 1136.9,1213.8 1138.3,1209.7 1139.7,1207.2 1141.0,1210.2 1142.4,1210.6 1143.8,1204.1 1145.1,1205.4 1146.5,1198.1 1147.9,1201.3 1149.3,1199.3 1150.6,1199.9 1152.0,1198.1 1153.4,1197.7 1154.7,1197.0 1156.1,1197.6 1157.5,1194.6 1158.9,1191.2 1160.2,1187.9 1161.6,1193.7 1163.0,1192.5 1164.4,1184.4 1165.7,1185.2 1167.1,1177.0 1168.5,1174.1 1169.8,1175.8 1171.2,1178.6 1172.6,1166.9 1174.0,1164.4 1175.3,1168.7 1176.7,1154.7 1178.1,1157.8 1179.5,1154.0 1180.8,1147.4 1182.2,1144.8 1183.6,1144.2 1184.9,1129.9 1186.3,1122.1 1187.7,1114.8 1189.1,1105.9 1190.4,1098.7 1191.8,1093.1 1193.2,1081.4 1194.6,1064.9 1195.9,1055.1 1197.3,1046.2 1198.7,1032.0 1200.0,1015.7 1201.4,1000.8 1202.8,987.5 1204.2,971.4 1205.5,950.4 1206.9,932.4 1208.3,916.2 1209.7,898.9 1211.0,880.9 1212.4,861.0 1213.8,833.0 1215.1,809.9 1216.5,792.3 1217.9,774.5 1219.3,756.4 1220.6,745.2 1222.0,737.0 1223.4,727.7 1224.8,719.8 1226.1,719.0 1227.5,723.9 1228.9,731.1 1230.2,739.8 1231.6,750.7 1233.0,765.4 1234.4,782.5 1235.7,801.1 1237.1,820.1 1238.5,834.9 1239.9,852.1 1241.2,873.5 1242.6,892.9 1244.0,910.4 1245.3,927.7 1246.7,945.6 1248.1,963.8 1249.5,978.8 1250.8,991.7 1252.2,1006.0 1253.6,1021.1 1255.0,1034.9 1256.3,1048.9 1257.7,1061.8 1259.1,1071.2 1260.4,1079.0 1261.8,1090.0 1263.2,1103.4 1264.6,1110.2 1265.9,1112.1 1267.3,1120.3 1268.7,1131.7 1270.1,1138.8 1271.4,1141.6 1272.8,1143.1 1274.2,1145.9 1275.5,1150.9 1276.9,1154.7 1278.3,1155.6 1279.7,1160.5 1281.0,1169.8 1282.4,1173.6 1283.8,1174.3 1285.1,1179.1 1286.5,1182.7 1287.9,1180.2 1289.3,1179.0 1290.6,1181.7 1292.0,1186.7 1293.4,1190.8 1294.8,1190.8 1296.1,1192.4 1297.5,1195.2 1298.9,1196.1 1300.2,1195.8 1301.6,1199.3 1303.0,1200.2 1304.4,1201.0 1305.7,1201.1 1307.1,1199.2 1308.5,1198.0 1309.9,1199.2 1311.2,1202.8 1312.6,1203.8 1314.0,1204.7 1315.3,1207.1 1316.7,1211.7 1318.1,1209.9 1319.5,1206.0 1320.8,1205.1 1322.2,1203.9 1323.6,1203.1 1325.0,1206.0 1326.3,1208.5 1327.7,1207.2 1329.1,1209.8 1330.4,1214.7 1331.8,1216.3 1333.2,1215.0 1334.6,1214.2 1335.9,1213.4 1337.3,1212.3 1338.7,1212.5 1340.1,1212.5 1341.4,1213.6 1342.8,1215.3 1344.2,1217.6 1345.5,1218.1 1346.9,1221.8 1348.3,1219.8 1349.7,1214.1 1351.0,1212.2 1352.4,1215.0 1353.8,1214.0 1355.2,1214.6 1356.5,1216.8 1357.9,1217.0 1359.3,1216.0 1360.6,1216.7 1362.0,1214.3 1363.4,1213.2 1364.8,1219.0 1366.1,1218.8 1367.5,1217.1 1368.9,1219.2 1370.3,1216.7 1371.6,1214.5 1373.0,1220.2 1374.4,1216.8 1375.7,1220.4 1377.1,1223.0 1378.5,1226.4 1379.9,1225.9 1381.2,1222.7 1382.6,1219.8 1384.0,1220.8 1385.4,1226.1 1386.7,1228.4 1388.1,1225.2 1389.5,1222.0 1390.8,1227.1 1392.2,1223.2 1393.6,1222.9 1395.0,1223.3 1396.3,1225.5 1397.7,1224.1 1399.1,1226.2 1400.5,1227.4 1401.8,1224.9 1403.2,1216.3 1404.6,1218.4 1405.9,1224.4 1407.3,1224.6 1408.7,1231.0 1410.1,1224.6 1411.4,1224.6 1412.8,1227.7 1414.2,1228.3 1415.6,1224.6 1416.9,1226.1 1418.3,1220.9 1419.7,1221.2 1421.0,1227.8 1422.4,1220.0 1423.8,1227.5 1425.2,1227.0 1426.5,1227.4 1427.9,1227.4 1429.3,1226.1 1430.6,1218.0 1432.0,1221.0 1433.4,1222.6 1434.8,1227.4 1436.1,1220.5 1437.5,1221.7 1438.9,1222.2 1440.3,1227.2 1441.6,1218.7 1443.0,1219.0 1444.4,1225.2 1445.7,1216.8 1447.1,1224.3 1448.5,1221.9 1449.9,1218.2 1451.2,1222.3 1452.6,1219.9 1454.0,1223.1 1455.4,1224.3 1456.7,1228.5 1458.1,1223.3 1459.5,1223.9 1460.8,1221.8 1462.2,1223.8 1463.6,1227.9 1465.0,1218.5 1466.3,1226.6 1467.7,1222.8 1469.1,1224.7 1470.5,1225.8 1471.8,1226.9 1473.2,1224.8 1474.6,1222.7 1475.9,1224.7 1477.3,1223.5 1478.7,1223.2 1480.1,1224.4 1481.4,1227.4 1482.8,1225.6 1484.2,1225.5 1485.6,1221.4 1486.9,1225.4 1488.3,1219.7 1489.7,1228.2 1491.0,1222.3 1492.4,1228.6 1493.8,1233.9 1495.2,1223.9 1496.5,1229.7 1497.9,1226.8 1499.3,1223.9 1500.7,1223.3 1502.0,1227.6 1503.4,1230.3 1504.8,1226.7 1506.1,1220.4 1507.5,1221.5 1508.9,1224.3 1510.3,1229.7 1511.6,1226.6 1513.0,1226.4 1514.4,1229.8 1515.8,1225.0 1517.1,1225.5 1518.5,1225.6 1519.9,1221.1 1521.2,1228.4 1522.6,1228.1 1524.0,1229.5 1525.4,1222.6 1526.7,1224.4 1528.1,1229.4 1529.5,1226.8 1530.9,1230.6 1532.2,1224.1 1533.6,1227.3 1535.0,1224.9 1536.3,1227.7 1537.7,1224.8 1539.1,1227.7 1540.5,1229.3 1541.8,1227.3 1543.2,1219.5 1544.6,1228.0 1546.0,1226.6 1547.3,1221.9 1548.7,1223.0 1550.1,1226.3 1551.4,1228.1 1552.8,1224.1 1554.2,1220.1 1555.6,1226.3 1556.9,1226.1 1558.3,1233.3 1559.7,1221.3 1561.1,1232.7 1562.4,1229.9 1563.8,1225.2 1565.2,1229.2 1566.5,1223.9 1567.9,1226.4 1569.3,1220.2 1570.7,1223.2 1572.0,1220.2 1573.4,1218.0 1574.8,1220.9 1576.1,1220.0 1577.5,1223.5 1578.9,1225.0 1580.3,1220.3 1581.6,1221.0 1583.0,1221.3 1584.4,1215.5 1585.8,1220.7 1587.1,1220.0 1588.5,1219.4 1589.9,1216.2 1591.2,1212.6 1592.6,1217.4 1594.0,1219.0 1595.4,1222.4 1596.7,1221.4 1598.1,1222.7 1599.5,1218.6 1600.9,1220.7 1602.2,1216.7 1603.6,1219.2 1605.0,1220.8 1606.3,1225.3 1607.7,1218.0 1609.1,1214.2 1610.5,1219.5 1611.8,1215.5 1613.2,1214.9 1614.6,1213.9 1616.0,1213.6 1617.3,1217.6 1618.7,1216.0 1620.1,1212.8 1621.4,1211.5 1622.8,1212.3 1624.2,1211.8 1625.6,1209.6 1626.9,1207.0 1628.3,1207.0 1629.7,1207.8 1631.1,1207.1 1632.4,1205.4 1633.8,1205.5 1635.2,1209.5 1636.5,1210.9 1637.9,1203.1 1639.3,1194.8 1640.7,1193.0 1642.0,1197.1 1643.4,1199.6 1644.8,1200.2 1646.2,1194.3 1647.5,1187.4 1648.9,1187.0 1650.3,1189.3 1651.6,1189.3 1653.0,1186.0 1654.4,1182.7 1655.8,1178.0 1657.1,1175.7 1658.5,1173.9 1659.9,1177.4 1661.3,1175.9 1662.6,1168.0 1664.0,1162.8 1665.4,1161.8 1666.7,1162.5 1668.1,1159.2 1669.5,1153.5 1670.9,1149.4 1672.2,1148.9 1673.6,1147.3 1675.0,1141.6 1676.4,1139.2 1677.7,1136.4 1679.1,1134.9 1680.5,1129.2 1681.8,1123.7 1683.2,1119.7 1684.6,1118.8 1686.0,1120.8 1687.3,1120.3 1688.7,1116.6 1690.1,1113.5 1691.5,1115.1 1692.8,1111.9 1694.2,1106.9 1695.6,1102.8 1696.9,1102.0 1698.3,1098.2 1699.7,1097.4 1701.1,1095.6 1702.4,1091.9 1703.8,1089.5 1705.2,1090.2 1706.6,1092.1 1707.9,1096.0 1709.3,1098.0 1710.7,1097.6 1712.0,1099.6 1713.4,1100.1 1714.8,1103.3 1716.2,1107.2 1717.5,1112.8 1718.9,1110.8 1720.3,1109.6 1721.6,1112.5 1723.0,1120.9 1724.4,1116.6 1725.8,1121.2 1727.1,1124.1 1728.5,1121.9 1729.9,1129.9 1731.3,1138.0 1732.6,1138.4 1734.0,1138.0 1735.4,1146.4 1736.7,1149.3 1738.1,1156.6 1739.5,1150.5 1740.9,1154.8 1742.2,1158.9 1743.6,1161.1 1745.0,1164.3 1746.4,1166.6 1747.7,1167.5 1749.1,1166.9 1750.5,1172.7 1751.8,1172.3 1753.2,1175.5 1754.6,1179.3 1756.0,1184.6 1757.3,1186.9 1758.7,1182.9 1760.1,1189.2 1761.5,1191.9 1762.8,1191.4 1764.2,1188.2 1765.6,1187.6 1766.9,1197.9 1768.3,1199.8 1769.7,1199.2 1771.1,1195.8 1772.4,1205.5 1773.8,1206.4 1775.2,1204.1 1776.6,1203.8 1777.9,1199.6 1779.3,1207.8 1780.7,1203.1 1782.0,1210.3 1783.4,1211.7 1784.8,1211.7 1786.2,1215.7 1787.5,1212.3 1788.9,1214.1 1790.3,1215.3 1791.7,1214.8 1793.0,1214.7 1794.4,1218.2 1795.8,1217.5 1797.1,1215.3 1798.5,1215.5 1799.9,1219.1 1801.3,1222.6 1802.6,1219.9 1804.0,1215.8 1805.4,1212.7 1806.8,1210.1 1808.1,1211.1 1809.5,1215.3 1810.9,1216.9 1812.2,1214.2 1813.6,1213.8 1815.0,1215.5 1816.4,1215.9 1817.7,1216.0 1819.1,1219.1 1820.5,1221.6 1821.9,1222.1 1823.2,1221.8 1824.6,1222.6 1826.0,1222.1 1827.3,1221.9 1828.7,1221.8 1830.1,1223.2 1831.5,1223.0 1832.8,1220.9 1834.2,1217.0 1835.6,1216.7 1837.0,1218.9 1838.3,1221.8 1839.7,1223.4 1841.1,1225.3 1842.4,1226.1 1843.8,1226.5 1845.2,1225.9 1846.6,1224.9 1847.9,1223.9 1849.3,1227.0 1850.7,1227.3 1852.1,1224.4 1853.4,1223.9 1854.8,1227.8 1856.2,1229.8 1857.5,1230.3 1858.9,1226.4 1860.3,1222.8 1861.7,1220.2 1863.0,1222.3 1864.4,1226.6 1865.8,1228.3 1867.1,1225.9 1868.5,1223.9 1869.9,1222.1 1871.3,1219.5 1872.6,1218.9 1874.0,1219.0 1875.4,1221.0 1876.8,1225.3 1878.1,1227.5 1879.5,1226.9 1880.9,1224.2 1882.2,1224.4 1883.6,1225.2 1885.0,1222.4 1886.4,1215.0 1887.7,1218.5 1889.1,1222.6 1890.5,1220.1 1891.9,1223.0 1893.2,1223.6 1894.6,1218.1 1896.0,1221.3 1897.3,1223.4 1898.7,1222.3 1900.1,1218.8 1901.5,1223.1 1902.8,1221.5 1904.2,1225.0 1905.6,1224.1 1907.0,1221.8 1908.3,1222.7 1909.7,1220.7 1911.1,1219.7 1912.4,1217.4 1913.8,1222.6 1915.2,1225.6 1916.6,1223.3 1917.9,1222.3 1919.3,1220.4 1920.7,1221.6 1922.1,1223.9 1923.4,1220.5 1924.8,1228.1 1926.2,1224.7 1927.5,1228.4 1928.9,1226.2 1930.3,1222.0 1931.7,1224.4 1933.0,1223.4 1934.4,1224.6 1935.8,1225.4 1937.2,1221.9 1938.5,1220.9 1939.9,1221.8 1941.3,1219.2 1942.6,1222.5 1944.0,1224.8 1945.4,1225.5 1946.8,1225.3 1948.1,1224.0 1949.5,1225.9 1950.9,1219.9 1952.3,1223.6 1953.6,1225.5 1955.0,1228.7 1956.4,1228.6 1957.7,1229.6 1959.1,1228.4 1960.5,1230.6 1961.9,1225.8 1963.2,1227.2 1964.6,1222.6 1966.0,1232.8 1967.4,1232.7 1968.7,1226.8 1970.1,1226.0 1971.5,1222.5 1972.8,1224.4 1974.2,1229.1 1975.6,1228.3 1977.0,1223.3 1978.3,1226.0 1979.7,1225.6 1981.1,1228.8 1982.5,1228.8 1983.8,1225.8 1985.2,1226.4 1986.6,1225.9 1987.9,1219.6 1989.3,1226.3 1990.7,1225.5 1992.1,1227.6 1993.4,1219.4 1994.8,1227.2 1996.2,1223.0 1997.6,1225.8 1998.9,1228.2 2000.3,1219.4 2001.7,1219.7 2003.0,1226.2 2004.4,1219.4 2005.8,1220.4 2007.2,1224.6 2008.5,1222.6 2009.9,1225.7 2011.3,1224.1 2012.6,1223.2 2014.0,1225.9 2015.4,1229.9 2016.8,1223.4 2018.1,1228.6 2019.5,1227.8 2020.9,1224.7 2022.3,1225.9 2023.6,1222.1 2025.0,1222.8 2026.4,1226.2 2027.7,1225.2 2029.1,1229.8 2030.5,1221.8 2031.9,1224.8 2033.2,1223.9 2034.6,1225.5 2036.0,1228.9 2037.4,1223.0 2038.7,1227.5 2040.1,1223.9 2041.5,1224.3 2042.8,1227.6 2044.2,1225.7 2045.6,1226.8 2047.0,1226.0 2048.3,1224.9 2049.7,1223.0 2051.1,1219.9 2052.5,1222.0 2053.8,1225.2 2055.2,1224.7 2056.6,1223.7 2057.9,1227.3 2059.3,1226.7 2060.7,1222.0 2062.1,1222.1 2063.4,1223.1 2064.8,1220.9 2066.2,1221.1 2067.6,1224.2 2068.9,1224.8 2070.3,1225.4" fill="none" stroke="#05629E" stroke-width="4.3" stroke-linejoin="miter" stroke-miterlimit="5"/>
<polyline points="354.5,1474.7 355.9,1461.6 357.2,1471.2 358.6,1468.3 360.0,1468.6 361.4,1469.4 362.7,1464.3 364.1,1469.9 365.5,1468.2 366.9,1480.1 368.2,1470.5 369.6,1468.9 371.0,1468.8 372.3,1468.1 373.7,1466.6 375.1,1468.6 376.5,1470.9 377.8,1469.0 379.2,1473.1 380.6,1469.3 382.0,1469.6 383.3,1473.9 384.7,1470.9 386.1,1467.8 387.4,1468.3 388.8,1470.5 390.2,1474.6 391.6,1468.7 392.9,1469.7 394.3,1472.8 395.7,1467.7 397.1,1468.8 398.4,1472.1 399.8,1470.3 401.2,1468.7 402.5,1470.8 403.9,1460.0 405.3,1471.1 406.7,1464.5 408.0,1461.9 409.4,1467.7 410.8,1469.9 412.2,1466.1 413.5,1464.2 414.9,1466.6 416.3,1467.3 417.6,1471.6 419.0,1470.1 420.4,1469.3 421.8,1471.5 423.1,1467.0 424.5,1464.8 425.9,1468.6 427.2,1469.4 428.6,1466.7 430.0,1465.4 431.4,1467.5 432.7,1459.4 434.1,1468.4 435.5,1467.4 436.9,1461.1 438.2,1465.7 439.6,1463.0 441.0,1467.5 442.3,1459.0 443.7,1462.4 445.1,1466.7 446.5,1468.6 447.8,1458.8 449.2,1464.6 450.6,1467.1 452.0,1464.1 453.3,1470.4 454.7,1462.4 456.1,1467.2 457.4,1463.8 458.8,1470.3 460.2,1465.8 461.6,1465.0 462.9,1460.5 464.3,1470.1 465.7,1467.7 467.1,1467.7 468.4,1468.7 469.8,1465.5 471.2,1462.7 472.5,1462.2 473.9,1462.5 475.3,1468.8 476.7,1460.4 478.0,1462.6 479.4,1463.1 480.8,1464.9 482.2,1466.3 483.5,1461.4 484.9,1460.5 486.3,1465.3 487.6,1468.1 489.0,1466.9 490.4,1465.7 491.8,1463.9 493.1,1466.1 494.5,1465.2 495.9,1468.7 497.3,1464.3 498.6,1467.4 500.0,1466.7 501.4,1468.8 502.7,1467.9 504.1,1474.2 505.5,1470.7 506.9,1471.0 508.2,1461.0 509.6,1465.7 511.0,1465.2 512.4,1468.4 513.7,1461.0 515.1,1470.8 516.5,1470.3 517.8,1463.3 519.2,1464.0 520.6,1465.2 522.0,1467.9 523.3,1469.9 524.7,1474.3 526.1,1468.3 527.5,1471.1 528.8,1469.5 530.2,1475.1 531.6,1471.7 532.9,1473.7 534.3,1466.0 535.7,1468.2 537.1,1465.5 538.4,1471.0 539.8,1468.6 541.2,1465.4 542.6,1464.9 543.9,1467.3 545.3,1463.6 546.7,1462.9 548.0,1467.2 549.4,1473.1 550.8,1465.7 552.2,1465.3 553.5,1463.6 554.9,1463.1 556.3,1468.1 557.7,1469.1 559.0,1466.0 560.4,1467.7 561.8,1467.4 563.1,1467.0 564.5,1462.0 565.9,1464.7 567.3,1466.1 568.6,1462.5 570.0,1463.2 571.4,1462.3 572.7,1464.1 574.1,1467.8 575.5,1463.5 576.9,1464.5 578.2,1467.6 579.6,1467.9 581.0,1471.2 582.4,1460.3 583.7,1468.6 585.1,1464.1 586.5,1465.7 587.8,1468.2 589.2,1469.5 590.6,1469.6 592.0,1466.7 593.3,1470.2 594.7,1464.7 596.1,1465.4 597.5,1467.9 598.8,1464.0 600.2,1471.7 601.6,1469.2 602.9,1472.2 604.3,1466.1 605.7,1465.4 607.1,1467.5 608.4,1469.0 609.8,1464.6 611.2,1468.0 612.6,1466.9 613.9,1471.0 615.3,1463.2 616.7,1468.2 618.0,1464.0 619.4,1463.4 620.8,1463.8 622.2,1462.2 623.5,1465.3 624.9,1467.4 626.3,1465.2 627.7,1467.3 629.0,1469.9 630.4,1466.0 631.8,1465.5 633.1,1464.2 634.5,1460.3 635.9,1467.4 637.3,1459.6 638.6,1466.5 640.0,1465.3 641.4,1468.1 642.8,1465.0 644.1,1462.4 645.5,1466.0 646.9,1463.4 648.2,1463.4 649.6,1464.0 651.0,1464.0 652.4,1464.0 653.7,1461.7 655.1,1463.4 656.5,1457.9 657.9,1464.1 659.2,1461.3 660.6,1467.5 662.0,1468.1 663.3,1459.1 664.7,1465.5 666.1,1465.5 667.5,1463.4 668.8,1468.2 670.2,1465.5 671.6,1462.4 673.0,1466.2 674.3,1466.1 675.7,1466.6 677.1,1462.9 678.4,1467.7 679.8,1468.4 681.2,1462.9 682.6,1464.1 683.9,1465.9 685.3,1465.1 686.7,1472.2 688.1,1467.0 689.4,1462.9 690.8,1464.4 692.2,1466.7 693.5,1472.9 694.9,1466.5 696.3,1467.0 697.7,1467.9 699.0,1467.2 700.4,1472.6 701.8,1465.1 703.2,1466.7 704.5,1465.9 705.9,1465.3 707.3,1461.8 708.6,1467.7 710.0,1464.9 711.4,1462.7 712.8,1459.9 714.1,1460.5 715.5,1464.2 716.9,1466.3 718.2,1466.2 719.6,1466.6 721.0,1465.7 722.4,1463.8 723.7,1464.2 725.1,1463.6 726.5,1462.7 727.9,1462.8 729.2,1463.9 730.6,1462.2 732.0,1461.0 733.3,1463.6 734.7,1464.7 736.1,1462.3 737.5,1459.5 738.8,1461.5 740.2,1460.2 741.6,1458.8 743.0,1460.0 744.3,1462.2 745.7,1462.3 747.1,1462.8 748.4,1462.8 749.8,1460.4 751.2,1458.1 752.6,1456.4 753.9,1459.8 755.3,1462.5 756.7,1464.0 758.1,1463.7 759.4,1464.8 760.8,1463.8 762.2,1459.4 763.5,1455.4 764.9,1458.0 766.3,1459.9 767.7,1457.7 769.0,1458.2 770.4,1461.3 771.8,1459.5 773.2,1457.1 774.5,1459.7 775.9,1462.5 777.3,1463.7 778.6,1465.4 780.0,1466.6 781.4,1462.7 782.8,1458.3 784.1,1458.0 785.5,1461.9 786.9,1464.9 788.3,1465.3 789.6,1463.5 791.0,1462.8 792.4,1462.9 793.7,1462.4 795.1,1461.1 796.5,1458.1 797.9,1457.9 799.2,1458.2 800.6,1458.3 802.0,1459.4 803.4,1461.3 804.7,1466.6 806.1,1469.8 807.5,1467.3 808.8,1463.9 810.2,1465.0 811.6,1464.1 813.0,1462.7 814.3,1464.2 815.7,1459.8 817.1,1456.5 818.5,1462.4 819.8,1463.5 821.2,1466.2 822.6,1462.4 823.9,1461.2 825.3,1465.7 826.7,1461.6 828.1,1463.7 829.4,1467.1 830.8,1463.7 832.2,1462.8 833.6,1463.3 834.9,1464.2 836.3,1460.9 837.7,1463.6 839.0,1464.9 840.4,1468.7 841.8,1461.3 843.2,1460.0 844.5,1465.5 845.9,1462.7 847.3,1464.2 848.7,1464.1 850.0,1466.5 851.4,1460.3 852.8,1461.8 854.1,1455.0 855.5,1460.1 856.9,1466.6 858.3,1460.0 859.6,1460.4 861.0,1458.8 862.4,1464.3 863.7,1462.5 865.1,1458.2 866.5,1463.4 867.9,1462.3 869.2,1463.4 870.6,1460.2 872.0,1467.1 873.4,1463.1 874.7,1462.1 876.1,1461.0 877.5,1462.0 878.8,1464.3 880.2,1461.1 881.6,1464.8 883.0,1463.3 884.3,1466.0 885.7,1464.2 887.1,1461.1 888.5,1456.3 889.8,1462.2 891.2,1463.3 892.6,1461.2 893.9,1463.0 895.3,1459.8 896.7,1460.2 898.1,1458.1 899.4,1465.3 900.8,1461.5 902.2,1459.6 903.6,1457.7 904.9,1460.9 906.3,1465.3 907.7,1462.7 909.0,1459.7 910.4,1466.2 911.8,1466.0 913.2,1463.9 914.5,1463.1 915.9,1464.2 917.3,1462.2 918.7,1462.7 920.0,1458.1 921.4,1464.7 922.8,1461.3 924.1,1466.6 925.5,1455.2 926.9,1463.0 928.3,1463.9 929.6,1460.3 931.0,1462.6 932.4,1464.3 933.8,1463.6 935.1,1460.7 936.5,1462.4 937.9,1465.7 939.2,1466.4 940.6,1463.1 942.0,1462.6 943.4,1463.0 944.7,1465.6 946.1,1459.3 947.5,1458.6 948.9,1462.9 950.2,1458.9 951.6,1460.9 953.0,1462.6 954.3,1464.1 955.7,1459.9 957.1,1465.6 958.5,1458.3 959.8,1464.9 961.2,1459.1 962.6,1459.5 964.0,1465.2 965.3,1461.6 966.7,1460.6 968.1,1461.3 969.4,1464.1 970.8,1462.2 972.2,1461.3 973.6,1463.8 974.9,1458.0 976.3,1458.5 977.7,1458.1 979.1,1462.8 980.4,1462.0 981.8,1462.8 983.2,1459.2 984.5,1458.7 985.9,1461.0 987.3,1457.5 988.7,1460.7 990.0,1460.2 991.4,1456.5 992.8,1458.1 994.2,1457.4 995.5,1462.9 996.9,1465.0 998.3,1458.4 999.6,1457.2 1001.0,1451.2 1002.4,1457.5 1003.8,1456.6 1005.1,1454.0 1006.5,1458.3 1007.9,1452.2 1009.2,1455.4 1010.6,1456.7 1012.0,1452.4 1013.4,1458.6 1014.7,1459.0 1016.1,1452.9 1017.5,1453.3 1018.9,1459.1 1020.2,1457.7 1021.6,1453.9 1023.0,1457.0 1024.3,1457.6 1025.7,1457.5 1027.1,1460.4 1028.5,1459.6 1029.8,1463.3 1031.2,1461.9 1032.6,1459.7 1034.0,1460.3 1035.3,1461.4 1036.7,1460.2 1038.1,1454.1 1039.4,1460.1 1040.8,1457.3 1042.2,1461.5 1043.6,1457.0 1044.9,1458.2 1046.3,1458.2 1047.7,1462.5 1049.1,1458.5 1050.4,1457.3 1051.8,1459.2 1053.2,1456.5 1054.5,1458.9 1055.9,1458.4 1057.3,1459.4 1058.7,1463.7 1060.0,1457.0 1061.4,1459.0 1062.8,1458.4 1064.2,1460.7 1065.5,1455.1 1066.9,1456.0 1068.3,1458.1 1069.6,1459.5 1071.0,1457.2 1072.4,1455.4 1073.8,1454.4 1075.1,1458.7 1076.5,1461.7 1077.9,1457.7 1079.3,1456.9 1080.6,1458.4 1082.0,1453.7 1083.4,1455.4 1084.7,1456.1 1086.1,1458.0 1087.5,1457.4 1088.9,1453.6 1090.2,1460.0 1091.6,1461.6 1093.0,1456.0 1094.4,1457.6 1095.7,1457.5 1097.1,1458.4 1098.5,1451.5 1099.8,1460.5 1101.2,1453.9 1102.6,1458.3 1104.0,1453.6 1105.3,1451.4 1106.7,1452.0 1108.1,1455.0 1109.5,1449.8 1110.8,1450.7 1112.2,1450.9 1113.6,1447.7 1114.9,1456.4 1116.3,1453.5 1117.7,1451.2 1119.1,1454.3 1120.4,1447.5 1121.8,1449.4 1123.2,1453.5 1124.6,1451.3 1125.9,1442.1 1127.3,1439.0 1128.7,1445.0 1130.0,1450.3 1131.4,1444.8 1132.8,1444.7 1134.2,1446.3 1135.5,1441.3 1136.9,1443.8 1138.3,1445.2 1139.7,1444.1 1141.0,1443.7 1142.4,1440.4 1143.8,1443.8 1145.1,1440.5 1146.5,1445.6 1147.9,1449.1 1149.3,1438.8 1150.6,1433.7 1152.0,1438.0 1153.4,1439.8 1154.7,1440.8 1156.1,1439.4 1157.5,1433.6 1158.9,1433.4 1160.2,1437.4 1161.6,1432.3 1163.0,1436.2 1164.4,1434.2 1165.7,1435.7 1167.1,1435.6 1168.5,1433.9 1169.8,1431.7 1171.2,1427.0 1172.6,1427.4 1174.0,1427.0 1175.3,1427.1 1176.7,1426.6 1178.1,1421.2 1179.5,1416.7 1180.8,1414.1 1182.2,1413.9 1183.6,1411.9 1184.9,1408.2 1186.3,1406.9 1187.7,1402.4 1189.1,1394.9 1190.4,1388.3 1191.8,1386.0 1193.2,1380.7 1194.6,1372.1 1195.9,1369.9 1197.3,1365.0 1198.7,1354.6 1200.0,1346.7 1201.4,1340.6 1202.8,1326.9 1204.2,1311.3 1205.5,1298.2 1206.9,1285.4 1208.3,1268.8 1209.7,1252.4 1211.0,1240.9 1212.4,1225.6 1213.8,1209.3 1215.1,1194.4 1216.5,1178.1 1217.9,1159.1 1219.3,1141.5 1220.6,1128.5 1222.0,1114.8 1223.4,1101.1 1224.8,1088.0 1226.1,1076.5 1227.5,1068.3 1228.9,1062.7 1230.2,1061.2 1231.6,1060.5 1233.0,1064.1 1234.4,1068.1 1235.7,1074.6 1237.1,1085.7 1238.5,1100.3 1239.9,1113.1 1241.2,1125.0 1242.6,1139.4 1244.0,1153.2 1245.3,1166.4 1246.7,1180.9 1248.1,1198.6 1249.5,1213.3 1250.8,1228.7 1252.2,1244.5 1253.6,1258.3 1255.0,1273.5 1256.3,1288.8 1257.7,1301.4 1259.1,1310.3 1260.4,1318.3 1261.8,1324.7 1263.2,1333.0 1264.6,1340.1 1265.9,1347.5 1267.3,1356.9 1268.7,1369.5 1270.1,1378.5 1271.4,1382.9 1272.8,1384.5 1274.2,1388.4 1275.5,1393.8 1276.9,1398.2 1278.3,1402.8 1279.7,1408.8 1281.0,1415.1 1282.4,1418.9 1283.8,1419.4 1285.1,1418.9 1286.5,1419.0 1287.9,1424.5 1289.3,1426.3 1290.6,1423.9 1292.0,1422.8 1293.4,1423.5 1294.8,1426.5 1296.1,1430.6 1297.5,1430.5 1298.9,1428.2 1300.2,1429.5 1301.6,1433.7 1303.0,1437.0 1304.4,1437.0 1305.7,1434.8 1307.1,1436.3 1308.5,1439.1 1309.9,1440.5 1311.2,1440.2 1312.6,1438.5 1314.0,1436.4 1315.3,1438.2 1316.7,1441.6 1318.1,1443.9 1319.5,1446.1 1320.8,1442.7 1322.2,1439.2 1323.6,1441.2 1325.0,1444.1 1326.3,1443.6 1327.7,1440.3 1329.1,1440.5 1330.4,1446.0 1331.8,1446.9 1333.2,1445.4 1334.6,1443.0 1335.9,1449.4 1337.3,1439.6 1338.7,1445.8 1340.1,1452.3 1341.4,1448.1 1342.8,1448.3 1344.2,1446.0 1345.5,1451.1 1346.9,1445.8 1348.3,1449.0 1349.7,1449.3 1351.0,1446.6 1352.4,1450.5 1353.8,1446.2 1355.2,1447.3 1356.5,1449.0 1357.9,1449.3 1359.3,1451.5 1360.6,1452.8 1362.0,1450.5 1363.4,1449.8 1364.8,1449.0 1366.1,1450.6 1367.5,1452.1 1368.9,1452.2 1370.3,1451.5 1371.6,1450.9 1373.0,1451.3 1374.4,1451.3 1375.7,1451.2 1377.1,1452.5 1378.5,1453.8 1379.9,1452.5 1381.2,1449.2 1382.6,1449.6 1384.0,1448.5 1385.4,1449.0 1386.7,1449.6 1388.1,1451.8 1389.5,1455.2 1390.8,1458.0 1392.2,1457.7 1393.6,1455.7 1395.0,1454.3 1396.3,1452.0 1397.7,1449.2 1399.1,1448.8 1400.5,1453.0 1401.8,1457.6 1403.2,1456.2 1404.6,1455.2 1405.9,1455.2 1407.3,1453.5 1408.7,1449.6 1410.1,1448.4 1411.4,1449.2 1412.8,1453.8 1414.2,1456.2 1415.6,1453.2 1416.9,1449.3 1418.3,1449.6 1419.7,1449.2 1421.0,1448.7 1422.4,1451.5 1423.8,1454.8 1425.2,1454.4 1426.5,1452.2 1427.9,1448.2 1429.3,1448.9 1430.6,1454.5 1432.0,1455.1 1433.4,1451.2 1434.8,1451.1 1436.1,1453.4 1437.5,1453.8 1438.9,1452.9 1440.3,1452.0 1441.6,1453.0 1443.0,1453.6 1444.4,1450.8 1445.7,1444.5 1447.1,1442.8 1448.5,1445.6 1449.9,1449.6 1451.2,1453.2 1452.6,1456.5 1454.0,1455.5 1455.4,1454.7 1456.7,1456.8 1458.1,1457.0 1459.5,1456.1 1460.8,1456.9 1462.2,1458.1 1463.6,1458.3 1465.0,1457.3 1466.3,1456.1 1467.7,1454.3 1469.1,1452.5 1470.5,1448.9 1471.8,1450.5 1473.2,1451.7 1474.6,1451.8 1475.9,1450.2 1477.3,1451.3 1478.7,1455.6 1480.1,1457.5 1481.4,1457.3 1482.8,1457.5 1484.2,1458.4 1485.6,1457.8 1486.9,1453.6 1488.3,1451.8 1489.7,1454.2 1491.0,1452.9 1492.4,1449.3 1493.8,1448.1 1495.2,1448.2 1496.5,1448.1 1497.9,1451.5 1499.3,1453.9 1500.7,1452.5 1502.0,1446.9 1503.4,1445.4 1504.8,1445.2 1506.1,1446.1 1507.5,1448.4 1508.9,1450.1 1510.3,1449.6 1511.6,1450.3 1513.0,1454.7 1514.4,1458.2 1515.8,1458.0 1517.1,1455.8 1518.5,1454.0 1519.9,1453.3 1521.2,1452.0 1522.6,1453.0 1524.0,1451.6 1525.4,1449.4 1526.7,1448.7 1528.1,1451.9 1529.5,1451.7 1530.9,1449.9 1532.2,1450.1 1533.6,1453.3 1535.0,1452.7 1536.3,1451.3 1537.7,1451.5 1539.1,1454.8 1540.5,1456.6 1541.8,1454.2 1543.2,1448.0 1544.6,1446.4 1546.0,1451.5 1547.3,1455.1 1548.7,1455.3 1550.1,1453.6 1551.4,1450.7 1552.8,1449.0 1554.2,1451.8 1555.6,1453.6 1556.9,1451.0 1558.3,1449.3 1559.7,1448.8 1561.1,1450.3 1562.4,1450.0 1563.8,1449.4 1565.2,1447.7 1566.5,1449.9 1567.9,1451.6 1569.3,1450.1 1570.7,1446.4 1572.0,1444.9 1573.4,1446.3 1574.8,1449.2 1576.1,1444.0 1577.5,1444.7 1578.9,1449.3 1580.3,1451.0 1581.6,1447.7 1583.0,1449.1 1584.4,1449.8 1585.8,1449.7 1587.1,1447.6 1588.5,1450.7 1589.9,1447.4 1591.2,1450.5 1592.6,1442.3 1594.0,1447.0 1595.4,1441.2 1596.7,1440.4 1598.1,1445.8 1599.5,1442.1 1600.9,1444.4 1602.2,1439.6 1603.6,1447.0 1605.0,1443.2 1606.3,1438.6 1607.7,1441.7 1609.1,1443.5 1610.5,1439.1 1611.8,1442.8 1613.2,1447.1 1614.6,1443.0 1616.0,1440.8 1617.3,1438.4 1618.7,1441.0 1620.1,1435.4 1621.4,1430.3 1622.8,1435.9 1624.2,1434.6 1625.6,1442.4 1626.9,1436.5 1628.3,1432.8 1629.7,1432.3 1631.1,1436.8 1632.4,1432.3 1633.8,1432.4 1635.2,1432.9 1636.5,1433.8 1637.9,1432.9 1639.3,1432.2 1640.7,1434.9 1642.0,1434.7 1643.4,1424.6 1644.8,1435.9 1646.2,1428.1 1647.5,1429.1 1648.9,1423.2 1650.3,1425.0 1651.6,1423.4 1653.0,1421.3 1654.4,1421.5 1655.8,1418.8 1657.1,1412.3 1658.5,1412.7 1659.9,1413.5 1661.3,1411.2 1662.6,1406.3 1664.0,1404.5 1665.4,1403.3 1666.7,1398.2 1668.1,1395.0 1669.5,1401.3 1670.9,1393.2 1672.2,1392.1 1673.6,1387.6 1675.0,1390.8 1676.4,1389.2 1677.7,1380.7 1679.1,1379.8 1680.5,1372.9 1681.8,1377.3 1683.2,1372.3 1684.6,1364.8 1686.0,1368.6 1687.3,1363.7 1688.7,1361.7 1690.1,1359.3 1691.5,1354.3 1692.8,1353.3 1694.2,1355.1 1695.6,1352.3 1696.9,1349.4 1698.3,1354.6 1699.7,1349.6 1701.1,1346.8 1702.4,1346.5 1703.8,1350.6 1705.2,1351.4 1706.6,1351.0 1707.9,1350.6 1709.3,1346.6 1710.7,1348.3 1712.0,1350.7 1713.4,1353.5 1714.8,1354.1 1716.2,1355.0 1717.5,1362.3 1718.9,1361.3 1720.3,1363.7 1721.6,1367.7 1723.0,1370.4 1724.4,1368.0 1725.8,1363.9 1727.1,1369.6 1728.5,1376.5 1729.9,1376.7 1731.3,1375.6 1732.6,1378.9 1734.0,1387.7 1735.4,1390.3 1736.7,1389.2 1738.1,1391.6 1739.5,1393.8 1740.9,1394.9 1742.2,1398.3 1743.6,1402.4 1745.0,1406.1 1746.4,1408.5 1747.7,1407.2 1749.1,1407.6 1750.5,1410.8 1751.8,1410.5 1753.2,1411.4 1754.6,1418.5 1756.0,1417.1 1757.3,1419.2 1758.7,1421.6 1760.1,1419.5 1761.5,1425.7 1762.8,1426.5 1764.2,1427.1 1765.6,1429.9 1766.9,1427.9 1768.3,1425.5 1769.7,1431.6 1771.1,1430.4 1772.4,1436.8 1773.8,1435.9 1775.2,1433.6 1776.6,1435.6 1777.9,1440.0 1779.3,1439.7 1780.7,1438.0 1782.0,1438.6 1783.4,1436.5 1784.8,1437.8 1786.2,1440.4 1787.5,1439.1 1788.9,1440.9 1790.3,1438.0 1791.7,1436.9 1793.0,1436.9 1794.4,1441.1 1795.8,1446.9 1797.1,1446.9 1798.5,1441.2 1799.9,1440.4 1801.3,1447.7 1802.6,1446.7 1804.0,1441.6 1805.4,1449.1 1806.8,1446.2 1808.1,1449.4 1809.5,1446.6 1810.9,1448.4 1812.2,1447.0 1813.6,1443.7 1815.0,1445.6 1816.4,1444.8 1817.7,1449.7 1819.1,1444.5 1820.5,1443.4 1821.9,1449.9 1823.2,1451.4 1824.6,1453.0 1826.0,1452.6 1827.3,1445.4 1828.7,1448.4 1830.1,1448.7 1831.5,1450.3 1832.8,1443.3 1834.2,1449.1 1835.6,1450.2 1837.0,1446.7 1838.3,1450.0 1839.7,1453.2 1841.1,1449.6 1842.4,1452.0 1843.8,1452.3 1845.2,1450.9 1846.6,1451.1 1847.9,1448.7 1849.3,1453.9 1850.7,1449.1 1852.1,1448.8 1853.4,1452.6 1854.8,1448.9 1856.2,1452.4 1857.5,1454.7 1858.9,1451.0 1860.3,1451.3 1861.7,1453.8 1863.0,1453.3 1864.4,1447.0 1865.8,1447.8 1867.1,1454.8 1868.5,1452.1 1869.9,1444.6 1871.3,1446.3 1872.6,1450.7 1874.0,1448.1 1875.4,1453.0 1876.8,1452.9 1878.1,1454.0 1879.5,1449.1 1880.9,1454.2 1882.2,1457.6 1883.6,1449.8 1885.0,1456.2 1886.4,1455.1 1887.7,1454.2 1889.1,1452.1 1890.5,1448.8 1891.9,1449.7 1893.2,1454.4 1894.6,1455.0 1896.0,1456.2 1897.3,1455.7 1898.7,1455.5 1900.1,1452.1 1901.5,1451.0 1902.8,1455.1 1904.2,1455.9 1905.6,1454.3 1907.0,1449.7 1908.3,1452.7 1909.7,1450.0 1911.1,1454.5 1912.4,1450.8 1913.8,1453.7 1915.2,1455.3 1916.6,1454.1 1917.9,1457.6 1919.3,1449.7 1920.7,1446.0 1922.1,1455.1 1923.4,1456.6 1924.8,1457.2 1926.2,1454.4 1927.5,1455.2 1928.9,1453.9 1930.3,1449.9 1931.7,1451.9 1933.0,1455.4 1934.4,1452.0 1935.8,1459.9 1937.2,1449.7 1938.5,1452.0 1939.9,1456.5 1941.3,1451.6 1942.6,1449.6 1944.0,1448.7 1945.4,1450.9 1946.8,1456.9 1948.1,1454.8 1949.5,1454.3 1950.9,1452.2 1952.3,1455.4 1953.6,1454.1 1955.0,1452.0 1956.4,1452.9 1957.7,1454.8 1959.1,1457.7 1960.5,1455.4 1961.9,1457.3 1963.2,1460.0 1964.6,1453.5 1966.0,1452.0 1967.4,1456.9 1968.7,1456.0 1970.1,1454.6 1971.5,1455.3 1972.8,1454.5 1974.2,1455.8 1975.6,1454.9 1977.0,1456.6 1978.3,1451.8 1979.7,1452.2 1981.1,1454.7 1982.5,1454.0 1983.8,1456.3 1985.2,1454.7 1986.6,1453.5 1987.9,1455.0 1989.3,1452.8 1990.7,1449.9 1992.1,1451.5 1993.4,1452.6 1994.8,1453.6 1996.2,1455.3 1997.6,1457.7 1998.9,1456.9 2000.3,1459.9 2001.7,1458.3 2003.0,1454.2 2004.4,1458.9 2005.8,1458.6 2007.2,1454.6 2008.5,1457.1 2009.9,1459.6 2011.3,1457.4 2012.6,1459.6 2014.0,1457.6 2015.4,1458.7 2016.8,1455.9 2018.1,1457.6 2019.5,1455.4 2020.9,1458.6 2022.3,1452.0 2023.6,1458.1 2025.0,1460.6 2026.4,1458.6 2027.7,1456.8 2029.1,1458.3 2030.5,1454.3 2031.9,1455.0 2033.2,1456.7 2034.6,1457.0 2036.0,1460.2 2037.4,1455.4 2038.7,1460.9 2040.1,1452.8 2041.5,1455.0 2042.8,1457.2 2044.2,1460.4 2045.6,1455.2 2047.0,1451.3 2048.3,1457.4 2049.7,1455.8 2051.1,1452.4 2052.5,1452.0 2053.8,1453.2 2055.2,1455.8 2056.6,1456.6 2057.9,1452.4 2059.3,1460.0 2060.7,1455.6 2062.1,1453.9 2063.4,1456.1 2064.8,1456.7 2066.2,1461.2 2067.6,1458.6 2068.9,1454.2 2070.3,1453.0" fill="none" stroke="#FFC000" stroke-width="4.3" stroke-linejoin="miter" stroke-miterlimit="5"/>
<path d="M1268.3,154.2V1535" stroke="#000" stroke-width="5.3" stroke-dasharray="18.5 14.8" fill="none"/>
<path d="M1757.8,852V1535" stroke="#000" stroke-width="2.8" stroke-dasharray="20 13.6" fill="none"/>
<rect x="354.5" y="153.0" width="1715.8" height="1382.0" fill="none" stroke="#000" stroke-width="5.5"/>
<path d="M526.1,153.0v13M526.1,1535.0v-13M697.7,153.0v27M697.7,1535.0v-27M869.2,153.0v13M869.2,1535.0v-13M1040.8,153.0v27M1040.8,1535.0v-27M1212.4,153.0v13M1212.4,1535.0v-13M1384.0,153.0v27M1384.0,1535.0v-27M1555.6,153.0v13M1555.6,1535.0v-13M1727.1,153.0v27M1727.1,1535.0v-27M1898.7,153.0v13M1898.7,1535.0v-13" stroke="#000" stroke-width="4.6" fill="none"/>
<text x="354.5" y="1610" font-size="59.5" text-anchor="middle">30</text>
<text x="697.7" y="1610" font-size="59.5" text-anchor="middle">35</text>
<text x="1040.8" y="1610" font-size="59.5" text-anchor="middle">40</text>
<text x="1384.0" y="1610" font-size="59.5" text-anchor="middle">45</text>
<text x="1727.1" y="1610" font-size="59.5" text-anchor="middle">50</text>
<text x="2070.3" y="1610" font-size="59.5" text-anchor="middle">55</text>
<text x="1214.5" y="1720" font-size="71" letter-spacing="0.9" text-anchor="middle">Two-Theta (deg)</text>
<text transform="translate(245.5,813) rotate(-90)" font-size="71" letter-spacing="0.5" text-anchor="middle">Intensity (Counts)</text>
<text x="1284" y="364" font-size="50.5" letter-spacing="1.2">Cu(1 1 1)</text>
<text x="1729.5" y="824" font-size="50.5" letter-spacing="1.2">Cu(2 0 0)</text>
<text x="494" y="951.4" font-size="50.5" letter-spacing="1.8" stroke="#000" stroke-width="0.6">10 h</text>
<text x="494" y="1205" font-size="50.5" letter-spacing="1.8" stroke="#000" stroke-width="0.6">20 h</text>
<text x="494" y="1441" font-size="50.5" letter-spacing="1.8" stroke="#000" stroke-width="0.6">30 h</text>
<text x="33" y="2016" font-size="78" font-weight="bold">(b)</text>
<path d="M357.85,2847.4H2067" stroke="#000" stroke-width="3.3" stroke-dasharray="7.4 10.91" stroke-linecap="round" fill="none"/>
<path d="M799,2793.5V3440" stroke="#000" stroke-width="4.3" stroke-dasharray="14.9 18.3" stroke-linecap="round" fill="none"/>
<path d="M1076.5,2737.5V3453" stroke="#000" stroke-width="3" stroke-dasharray="16.5 16.6" stroke-linecap="round" fill="none"/>
<path d="M1268.1,2077.5V3453" stroke="#000" stroke-width="4.1" stroke-dasharray="14.6 18.5" stroke-linecap="round" fill="none"/>
<path d="M1756.2,2655.4V3453" stroke="#000" stroke-width="4" stroke-dasharray="15.2 17.9" stroke-linecap="round" fill="none"/>
<polyline points="358.0,2848.0 359.4,2853.8 360.7,2853.0 362.1,2844.9 363.5,2845.9 364.8,2845.0 366.2,2849.9 367.6,2847.5 368.9,2851.1 370.3,2839.1 371.7,2855.1 373.0,2847.7 374.4,2851.3 375.8,2847.7 377.1,2846.9 378.5,2850.8 379.9,2852.7 381.2,2847.5 382.6,2847.5 384.0,2850.9 385.3,2843.4 386.7,2840.0 388.1,2849.0 389.4,2843.5 390.8,2838.1 392.2,2842.9 393.5,2844.4 394.9,2840.8 396.3,2838.7 397.7,2846.0 399.0,2849.4 400.4,2844.0 401.8,2842.8 403.1,2847.9 404.5,2849.6 405.9,2844.4 407.2,2848.2 408.6,2850.1 410.0,2844.0 411.3,2841.2 412.7,2846.0 414.1,2844.9 415.4,2848.0 416.8,2837.0 418.2,2839.9 419.5,2838.7 420.9,2834.2 422.3,2842.3 423.6,2844.4 425.0,2837.8 426.4,2848.2 427.7,2846.0 429.1,2844.6 430.5,2843.5 431.8,2845.7 433.2,2835.0 434.6,2844.5 435.9,2844.0 437.3,2832.6 438.7,2842.2 440.0,2838.8 441.4,2844.0 442.8,2838.0 444.1,2838.9 445.5,2840.6 446.9,2834.9 448.2,2841.9 449.6,2838.7 451.0,2841.9 452.3,2836.7 453.7,2844.7 455.1,2842.7 456.4,2839.6 457.8,2843.5 459.2,2846.6 460.5,2848.9 461.9,2833.7 463.3,2845.8 464.6,2843.8 466.0,2842.0 467.4,2838.6 468.7,2848.6 470.1,2836.5 471.5,2846.3 472.9,2849.8 474.2,2836.9 475.6,2843.1 477.0,2838.5 478.3,2846.1 479.7,2852.4 481.1,2855.0 482.4,2838.1 483.8,2843.7 485.2,2849.3 486.5,2853.7 487.9,2848.0 489.3,2842.4 490.6,2847.8 492.0,2846.4 493.4,2845.6 494.7,2843.4 496.1,2848.3 497.5,2848.3 498.8,2845.7 500.2,2845.3 501.6,2839.4 502.9,2842.3 504.3,2850.3 505.7,2843.7 507.0,2838.1 508.4,2850.0 509.8,2846.1 511.1,2853.9 512.5,2844.6 513.9,2841.3 515.2,2836.0 516.6,2848.8 518.0,2854.3 519.3,2838.2 520.7,2839.2 522.1,2844.7 523.4,2838.1 524.8,2840.2 526.2,2839.5 527.5,2842.6 528.9,2846.4 530.3,2841.7 531.6,2846.0 533.0,2839.2 534.4,2842.7 535.7,2831.5 537.1,2834.9 538.5,2844.6 539.8,2838.1 541.2,2844.6 542.6,2844.2 544.0,2849.1 545.3,2847.7 546.7,2847.8 548.1,2842.6 549.4,2840.2 550.8,2840.3 552.2,2841.9 553.5,2838.7 554.9,2841.6 556.3,2844.1 557.6,2845.7 559.0,2843.1 560.4,2835.1 561.7,2844.2 563.1,2845.1 564.5,2849.5 565.8,2847.2 567.2,2841.8 568.6,2841.7 569.9,2853.9 571.3,2847.7 572.7,2852.8 574.0,2854.4 575.4,2840.8 576.8,2845.8 578.1,2846.5 579.5,2846.9 580.9,2847.6 582.2,2846.0 583.6,2845.4 585.0,2837.9 586.3,2843.8 587.7,2840.6 589.1,2844.5 590.4,2841.2 591.8,2845.4 593.2,2846.5 594.5,2843.5 595.9,2843.2 597.3,2842.2 598.6,2839.5 600.0,2841.0 601.4,2839.1 602.7,2843.2 604.1,2841.4 605.5,2843.9 606.8,2834.8 608.2,2844.5 609.6,2836.7 610.9,2836.7 612.3,2839.3 613.7,2837.7 615.0,2841.8 616.4,2837.2 617.8,2835.5 619.2,2836.4 620.5,2845.6 621.9,2839.6 623.3,2833.0 624.6,2838.4 626.0,2831.1 627.4,2845.9 628.7,2830.3 630.1,2839.8 631.5,2840.5 632.8,2831.3 634.2,2839.6 635.6,2842.4 636.9,2840.4 638.3,2839.6 639.7,2842.8 641.0,2839.5 642.4,2839.6 643.8,2837.1 645.1,2840.3 646.5,2832.6 647.9,2840.0 649.2,2834.1 650.6,2831.7 652.0,2838.1 653.3,2843.8 654.7,2840.1 656.1,2833.7 657.4,2838.6 658.8,2833.4 660.2,2834.7 661.5,2835.9 662.9,2824.7 664.3,2836.3 665.6,2831.0 667.0,2832.3 668.4,2828.4 669.7,2828.5 671.1,2831.0 672.5,2838.8 673.8,2842.3 675.2,2835.7 676.6,2839.3 677.9,2833.1 679.3,2826.2 680.7,2833.7 682.0,2835.3 683.4,2831.9 684.8,2834.9 686.1,2836.2 687.5,2831.4 688.9,2828.3 690.2,2832.2 691.6,2833.2 693.0,2833.5 694.4,2838.8 695.7,2840.2 697.1,2835.8 698.5,2837.0 699.8,2838.6 701.2,2838.5 702.6,2836.7 703.9,2833.9 705.3,2836.8 706.7,2839.6 708.0,2835.7 709.4,2832.1 710.8,2834.7 712.1,2837.0 713.5,2833.6 714.9,2831.0 716.2,2834.0 717.6,2827.7 719.0,2830.5 720.3,2828.8 721.7,2825.4 723.1,2833.2 724.4,2829.7 725.8,2823.5 727.2,2829.0 728.5,2824.0 729.9,2816.7 731.3,2821.3 732.6,2825.5 734.0,2826.5 735.4,2823.8 736.7,2822.4 738.1,2823.6 739.5,2819.4 740.8,2824.9 742.2,2819.5 743.6,2819.4 744.9,2820.1 746.3,2812.5 747.7,2812.9 749.0,2822.6 750.4,2816.3 751.8,2812.3 753.1,2813.7 754.5,2809.1 755.9,2811.9 757.2,2807.3 758.6,2810.7 760.0,2801.3 761.3,2813.7 762.7,2804.6 764.1,2799.1 765.4,2803.7 766.8,2801.9 768.2,2803.4 769.6,2796.7 770.9,2803.3 772.3,2817.5 773.7,2794.6 775.0,2801.4 776.4,2797.6 777.8,2799.1 779.1,2789.2 780.5,2791.8 781.9,2798.6 783.2,2795.6 784.6,2802.7 786.0,2791.2 787.3,2794.2 788.7,2806.5 790.1,2789.7 791.4,2788.7 792.8,2792.5 794.2,2791.6 795.5,2795.5 796.9,2791.2 798.3,2786.9 799.6,2790.7 801.0,2801.4 802.4,2795.2 803.7,2776.4 805.1,2788.1 806.5,2784.3 807.8,2791.2 809.2,2788.0 810.6,2798.1 811.9,2793.5 813.3,2793.2 814.7,2791.0 816.0,2790.9 817.4,2793.3 818.8,2798.1 820.1,2795.6 821.5,2792.8 822.9,2801.0 824.2,2798.0 825.6,2797.5 827.0,2795.7 828.3,2797.8 829.7,2798.6 831.1,2790.2 832.4,2807.2 833.8,2806.9 835.2,2804.2 836.5,2811.3 837.9,2809.6 839.3,2810.8 840.6,2798.9 842.0,2809.8 843.4,2814.0 844.8,2820.0 846.1,2822.1 847.5,2820.9 848.9,2809.7 850.2,2805.5 851.6,2818.9 853.0,2817.5 854.3,2822.4 855.7,2818.8 857.1,2820.5 858.4,2812.8 859.8,2822.9 861.2,2819.9 862.5,2824.7 863.9,2826.3 865.3,2824.2 866.6,2826.4 868.0,2825.0 869.4,2828.7 870.7,2828.2 872.1,2823.9 873.5,2824.5 874.8,2835.8 876.2,2827.7 877.6,2833.6 878.9,2831.1 880.3,2827.4 881.7,2826.9 883.0,2831.3 884.4,2832.9 885.8,2835.0 887.1,2826.5 888.5,2829.9 889.9,2832.5 891.2,2840.8 892.6,2823.2 894.0,2836.5 895.3,2831.6 896.7,2836.5 898.1,2832.1 899.4,2836.1 900.8,2842.1 902.2,2836.5 903.5,2836.9 904.9,2836.1 906.3,2830.3 907.6,2836.1 909.0,2832.1 910.4,2830.6 911.7,2834.3 913.1,2833.2 914.5,2837.9 915.9,2834.0 917.2,2831.3 918.6,2840.2 920.0,2837.2 921.3,2838.3 922.7,2834.6 924.1,2830.9 925.4,2829.3 926.8,2829.9 928.2,2835.4 929.5,2831.3 930.9,2823.7 932.3,2830.8 933.6,2824.4 935.0,2831.3 936.4,2825.2 937.7,2824.8 939.1,2831.2 940.5,2829.8 941.8,2822.8 943.2,2833.7 944.6,2840.0 945.9,2823.2 947.3,2838.7 948.7,2827.5 950.0,2828.4 951.4,2829.7 952.8,2823.2 954.1,2835.3 955.5,2831.2 956.9,2825.1 958.2,2827.4 959.6,2822.7 961.0,2828.3 962.3,2834.7 963.7,2822.5 965.1,2829.0 966.4,2832.2 967.8,2836.5 969.2,2837.9 970.5,2829.9 971.9,2828.5 973.3,2833.9 974.6,2829.7 976.0,2830.0 977.4,2836.6 978.7,2839.0 980.1,2832.6 981.5,2830.2 982.8,2834.2 984.2,2823.3 985.6,2831.9 986.9,2826.9 988.3,2842.1 989.7,2834.7 991.1,2832.1 992.4,2830.0 993.8,2820.1 995.2,2834.0 996.5,2838.4 997.9,2829.3 999.3,2834.5 1000.6,2833.8 1002.0,2826.1 1003.4,2834.3 1004.7,2836.3 1006.1,2832.3 1007.5,2830.4 1008.8,2830.1 1010.2,2824.8 1011.6,2828.4 1012.9,2830.0 1014.3,2827.9 1015.7,2828.6 1017.0,2826.0 1018.4,2821.5 1019.8,2822.5 1021.1,2825.2 1022.5,2824.2 1023.9,2825.0 1025.2,2824.5 1026.6,2824.4 1028.0,2823.0 1029.3,2822.3 1030.7,2823.7 1032.1,2825.5 1033.4,2823.9 1034.8,2819.0 1036.2,2818.7 1037.5,2822.5 1038.9,2823.1 1040.3,2820.2 1041.6,2817.6 1043.0,2814.9 1044.4,2811.6 1045.7,2812.9 1047.1,2814.9 1048.5,2813.1 1049.8,2812.1 1051.2,2812.5 1052.6,2812.1 1053.9,2808.9 1055.3,2805.5 1056.7,2800.5 1058.0,2796.2 1059.4,2792.7 1060.8,2789.5 1062.1,2782.9 1063.5,2778.2 1064.9,2772.5 1066.3,2766.6 1067.6,2756.1 1069.0,2749.6 1070.4,2745.7 1071.7,2743.7 1073.1,2738.2 1074.5,2728.2 1075.8,2719.8 1077.2,2717.2 1078.6,2718.9 1079.9,2723.2 1081.3,2729.6 1082.7,2734.9 1084.0,2738.6 1085.4,2742.7 1086.8,2746.7 1088.1,2751.0 1089.5,2759.1 1090.9,2768.8 1092.2,2775.9 1093.6,2781.9 1095.0,2783.6 1096.3,2783.8 1097.7,2786.5 1099.1,2790.1 1100.4,2791.2 1101.8,2795.9 1103.2,2802.6 1104.5,2806.3 1105.9,2805.6 1107.3,2803.6 1108.6,2804.1 1110.0,2805.7 1111.4,2806.4 1112.7,2808.4 1114.1,2809.8 1115.5,2807.1 1116.8,2805.1 1118.2,2807.3 1119.6,2808.9 1120.9,2809.0 1122.3,2809.1 1123.7,2805.6 1125.0,2801.6 1126.4,2802.1 1127.8,2804.4 1129.1,2801.3 1130.5,2797.2 1131.9,2797.1 1133.2,2798.2 1134.6,2798.5 1136.0,2799.3 1137.3,2802.7 1138.7,2804.6 1140.1,2803.1 1141.5,2801.3 1142.8,2798.0 1144.2,2793.3 1145.6,2792.1 1146.9,2793.1 1148.3,2792.2 1149.7,2793.2 1151.0,2793.8 1152.4,2790.5 1153.8,2786.2 1155.1,2789.1 1156.5,2790.3 1157.9,2787.0 1159.2,2781.8 1160.6,2778.6 1162.0,2774.7 1163.3,2774.7 1164.7,2771.2 1166.1,2765.9 1167.4,2762.3 1168.8,2768.4 1170.2,2770.3 1171.5,2765.4 1172.9,2760.5 1174.3,2756.6 1175.6,2751.9 1177.0,2750.4 1178.4,2743.8 1179.7,2735.4 1181.1,2730.0 1182.5,2723.8 1183.8,2717.6 1185.2,2716.1 1186.6,2709.7 1187.9,2698.6 1189.3,2689.3 1190.7,2679.6 1192.0,2668.9 1193.4,2660.8 1194.8,2649.1 1196.1,2636.8 1197.5,2626.4 1198.9,2613.8 1200.2,2594.0 1201.6,2572.1 1203.0,2556.3 1204.3,2542.7 1205.7,2525.3 1207.1,2504.0 1208.4,2483.9 1209.8,2462.5 1211.2,2445.1 1212.5,2425.5 1213.9,2402.2 1215.3,2378.3 1216.7,2358.8 1218.0,2335.1 1219.4,2310.1 1220.8,2287.4 1222.1,2268.5 1223.5,2248.9 1224.9,2228.7 1226.2,2209.3 1227.6,2192.7 1229.0,2179.3 1230.3,2168.6 1231.7,2159.5 1233.1,2153.3 1234.4,2152.6 1235.8,2157.8 1237.2,2164.1 1238.5,2165.9 1239.9,2176.4 1241.3,2188.0 1242.6,2192.9 1244.0,2206.9 1245.4,2227.3 1246.7,2253.0 1248.1,2280.9 1249.5,2297.9 1250.8,2318.8 1252.2,2334.1 1253.6,2346.3 1254.9,2368.6 1256.3,2402.7 1257.7,2421.3 1259.0,2436.3 1260.4,2462.9 1261.8,2474.2 1263.1,2502.9 1264.5,2522.6 1265.9,2529.9 1267.2,2545.2 1268.6,2568.3 1270.0,2575.8 1271.3,2597.6 1272.7,2603.1 1274.1,2624.4 1275.4,2632.5 1276.8,2641.0 1278.2,2649.3 1279.5,2664.2 1280.9,2664.1 1282.3,2679.5 1283.6,2687.3 1285.0,2700.2 1286.4,2698.1 1287.8,2718.7 1289.1,2715.4 1290.5,2717.0 1291.9,2734.0 1293.2,2740.9 1294.6,2736.9 1296.0,2738.7 1297.3,2747.0 1298.7,2747.3 1300.1,2752.4 1301.4,2764.8 1302.8,2762.5 1304.2,2764.7 1305.5,2768.1 1306.9,2768.9 1308.3,2775.6 1309.6,2777.4 1311.0,2773.6 1312.4,2777.8 1313.7,2790.7 1315.1,2782.7 1316.5,2781.8 1317.8,2794.8 1319.2,2787.3 1320.6,2784.5 1321.9,2794.2 1323.3,2788.5 1324.7,2791.7 1326.0,2797.2 1327.4,2795.3 1328.8,2793.5 1330.1,2795.6 1331.5,2795.9 1332.9,2804.7 1334.2,2797.6 1335.6,2799.2 1337.0,2811.4 1338.3,2802.2 1339.7,2810.0 1341.1,2810.2 1342.4,2804.5 1343.8,2800.5 1345.2,2808.3 1346.5,2810.7 1347.9,2811.9 1349.3,2810.6 1350.6,2815.4 1352.0,2815.7 1353.4,2810.0 1354.7,2816.0 1356.1,2813.9 1357.5,2811.3 1358.8,2813.8 1360.2,2819.8 1361.6,2816.4 1363.0,2808.7 1364.3,2810.8 1365.7,2812.6 1367.1,2812.1 1368.4,2809.5 1369.8,2811.1 1371.2,2813.5 1372.5,2814.2 1373.9,2813.6 1375.3,2814.1 1376.6,2815.8 1378.0,2819.0 1379.4,2819.1 1380.7,2815.6 1382.1,2814.9 1383.5,2818.1 1384.8,2821.5 1386.2,2822.7 1387.6,2821.3 1388.9,2820.7 1390.3,2821.3 1391.7,2819.5 1393.0,2820.4 1394.4,2822.3 1395.8,2821.8 1397.1,2821.9 1398.5,2825.5 1399.9,2825.8 1401.2,2823.1 1402.6,2820.4 1404.0,2820.0 1405.3,2825.5 1406.7,2827.2 1408.1,2827.2 1409.4,2825.6 1410.8,2824.0 1412.2,2822.8 1413.5,2825.5 1414.9,2827.0 1416.3,2825.2 1417.6,2822.8 1419.0,2818.9 1420.4,2817.7 1421.7,2817.9 1423.1,2818.9 1424.5,2820.9 1425.8,2823.3 1427.2,2822.0 1428.6,2824.0 1429.9,2827.7 1431.3,2825.9 1432.7,2823.5 1434.0,2829.2 1435.4,2829.1 1436.8,2822.7 1438.2,2819.7 1439.5,2823.6 1440.9,2827.6 1442.3,2826.4 1443.6,2824.1 1445.0,2826.9 1446.4,2827.8 1447.7,2824.0 1449.1,2821.1 1450.5,2825.9 1451.8,2833.3 1453.2,2837.0 1454.6,2832.3 1455.9,2829.5 1457.3,2825.1 1458.7,2823.3 1460.0,2822.2 1461.4,2821.5 1462.8,2819.6 1464.1,2821.7 1465.5,2824.9 1466.9,2828.4 1468.2,2829.1 1469.6,2825.6 1471.0,2824.2 1472.3,2825.6 1473.7,2828.3 1475.1,2827.9 1476.4,2821.5 1477.8,2817.3 1479.2,2824.6 1480.5,2832.4 1481.9,2831.2 1483.3,2828.1 1484.6,2829.3 1486.0,2829.8 1487.4,2827.3 1488.7,2824.5 1490.1,2826.1 1491.5,2825.7 1492.8,2822.7 1494.2,2821.4 1495.6,2826.1 1496.9,2830.4 1498.3,2829.3 1499.7,2829.4 1501.0,2830.6 1502.4,2838.1 1503.8,2830.8 1505.1,2833.4 1506.5,2837.0 1507.9,2829.7 1509.2,2830.0 1510.6,2834.3 1512.0,2837.4 1513.4,2832.1 1514.7,2832.0 1516.1,2830.6 1517.5,2825.1 1518.8,2834.0 1520.2,2828.7 1521.6,2822.7 1522.9,2827.8 1524.3,2822.1 1525.7,2825.6 1527.0,2829.6 1528.4,2828.1 1529.8,2833.7 1531.1,2826.9 1532.5,2831.2 1533.9,2834.8 1535.2,2837.6 1536.6,2835.9 1538.0,2832.4 1539.3,2831.3 1540.7,2832.5 1542.1,2833.1 1543.4,2830.8 1544.8,2830.5 1546.2,2830.5 1547.5,2829.5 1548.9,2832.5 1550.3,2832.8 1551.6,2830.9 1553.0,2828.9 1554.4,2830.0 1555.7,2830.2 1557.1,2830.1 1558.5,2830.1 1559.8,2826.9 1561.2,2823.5 1562.6,2820.6 1563.9,2821.6 1565.3,2821.0 1566.7,2819.8 1568.0,2818.9 1569.4,2823.5 1570.8,2826.7 1572.1,2826.0 1573.5,2825.5 1574.9,2824.0 1576.2,2817.7 1577.6,2813.4 1579.0,2815.2 1580.3,2820.7 1581.7,2825.7 1583.1,2825.2 1584.5,2824.0 1585.8,2827.1 1587.2,2829.4 1588.6,2824.8 1589.9,2825.7 1591.3,2825.6 1592.7,2822.2 1594.0,2817.8 1595.4,2814.9 1596.8,2815.8 1598.1,2817.2 1599.5,2818.8 1600.9,2818.9 1602.2,2817.7 1603.6,2817.8 1605.0,2817.6 1606.3,2818.1 1607.7,2815.0 1609.1,2814.6 1610.4,2812.9 1611.8,2814.2 1613.2,2812.8 1614.5,2810.4 1615.9,2806.9 1617.3,2808.4 1618.6,2813.5 1620.0,2812.9 1621.4,2807.1 1622.7,2803.1 1624.1,2805.4 1625.5,2807.4 1626.8,2805.8 1628.2,2806.0 1629.6,2809.5 1630.9,2810.9 1632.3,2807.5 1633.7,2802.5 1635.0,2802.8 1636.4,2800.7 1637.8,2797.4 1639.1,2802.3 1640.5,2799.0 1641.9,2796.0 1643.2,2800.7 1644.6,2797.6 1646.0,2796.3 1647.3,2795.8 1648.7,2791.6 1650.1,2781.9 1651.4,2783.9 1652.8,2788.3 1654.2,2778.8 1655.5,2780.5 1656.9,2780.2 1658.3,2782.6 1659.7,2780.5 1661.0,2776.6 1662.4,2770.1 1663.8,2773.6 1665.1,2769.4 1666.5,2763.8 1667.9,2768.2 1669.2,2762.4 1670.6,2753.6 1672.0,2760.3 1673.3,2751.0 1674.7,2752.1 1676.1,2739.5 1677.4,2743.1 1678.8,2736.3 1680.2,2733.3 1681.5,2726.0 1682.9,2742.5 1684.3,2729.4 1685.6,2727.5 1687.0,2728.9 1688.4,2720.7 1689.7,2721.6 1691.1,2710.7 1692.5,2714.3 1693.8,2708.8 1695.2,2710.5 1696.6,2706.4 1697.9,2696.4 1699.3,2691.2 1700.7,2692.6 1702.0,2698.2 1703.4,2694.5 1704.8,2691.7 1706.1,2677.9 1707.5,2673.4 1708.9,2680.7 1710.2,2680.7 1711.6,2678.5 1713.0,2681.7 1714.3,2678.7 1715.7,2673.8 1717.1,2674.4 1718.4,2678.7 1719.8,2679.5 1721.2,2680.9 1722.5,2687.7 1723.9,2682.1 1725.3,2681.1 1726.6,2679.3 1728.0,2683.5 1729.4,2688.2 1730.7,2689.3 1732.1,2689.3 1733.5,2691.9 1734.9,2691.7 1736.2,2685.5 1737.6,2689.2 1739.0,2703.1 1740.3,2708.1 1741.7,2703.9 1743.1,2701.8 1744.4,2707.1 1745.8,2711.1 1747.2,2711.2 1748.5,2716.3 1749.9,2724.8 1751.3,2728.6 1752.6,2730.2 1754.0,2735.8 1755.4,2738.0 1756.7,2736.5 1758.1,2735.8 1759.5,2743.9 1760.8,2749.6 1762.2,2752.1 1763.6,2752.8 1764.9,2752.5 1766.3,2754.8 1767.7,2763.0 1769.0,2770.2 1770.4,2770.4 1771.8,2766.2 1773.1,2764.2 1774.5,2766.9 1775.9,2772.9 1777.2,2779.0 1778.6,2780.1 1780.0,2777.2 1781.3,2782.5 1782.7,2785.9 1784.1,2787.9 1785.4,2789.5 1786.8,2791.3 1788.2,2795.0 1789.5,2795.7 1790.9,2796.6 1792.3,2794.6 1793.6,2800.1 1795.0,2799.3 1796.4,2792.7 1797.7,2803.9 1799.1,2801.6 1800.5,2807.5 1801.8,2803.7 1803.2,2805.0 1804.6,2807.4 1805.9,2807.2 1807.3,2806.2 1808.7,2800.8 1810.1,2818.1 1811.4,2802.8 1812.8,2808.7 1814.2,2814.5 1815.5,2814.2 1816.9,2815.5 1818.3,2816.8 1819.6,2819.0 1821.0,2814.6 1822.4,2827.2 1823.7,2809.8 1825.1,2815.8 1826.5,2813.4 1827.8,2812.3 1829.2,2816.1 1830.6,2822.6 1831.9,2812.4 1833.3,2812.7 1834.7,2820.3 1836.0,2820.2 1837.4,2827.4 1838.8,2824.1 1840.1,2821.6 1841.5,2819.6 1842.9,2822.5 1844.2,2821.2 1845.6,2816.4 1847.0,2823.3 1848.3,2823.0 1849.7,2823.2 1851.1,2822.7 1852.4,2833.2 1853.8,2829.3 1855.2,2831.0 1856.5,2823.7 1857.9,2821.7 1859.3,2825.5 1860.6,2828.5 1862.0,2826.7 1863.4,2827.9 1864.7,2833.6 1866.1,2830.9 1867.5,2825.1 1868.8,2827.1 1870.2,2826.5 1871.6,2829.8 1872.9,2824.9 1874.3,2829.6 1875.7,2834.4 1877.0,2831.8 1878.4,2827.7 1879.8,2828.6 1881.1,2830.8 1882.5,2832.4 1883.9,2833.3 1885.3,2829.4 1886.6,2827.2 1888.0,2833.9 1889.4,2833.0 1890.7,2832.1 1892.1,2830.1 1893.5,2826.4 1894.8,2827.8 1896.2,2831.6 1897.6,2833.6 1898.9,2827.5 1900.3,2822.0 1901.7,2826.4 1903.0,2833.5 1904.4,2836.4 1905.8,2839.0 1907.1,2841.1 1908.5,2840.8 1909.9,2838.8 1911.2,2834.2 1912.6,2832.3 1914.0,2834.6 1915.3,2836.2 1916.7,2834.8 1918.1,2834.9 1919.4,2835.7 1920.8,2834.2 1922.2,2833.9 1923.5,2835.8 1924.9,2836.0 1926.3,2836.9 1927.6,2834.8 1929.0,2832.8 1930.4,2831.3 1931.7,2832.7 1933.1,2835.4 1934.5,2840.0 1935.8,2840.5 1937.2,2840.0 1938.6,2842.9 1939.9,2842.6 1941.3,2841.9 1942.7,2838.5 1944.0,2836.9 1945.4,2837.1 1946.8,2838.5 1948.1,2838.7 1949.5,2840.7 1950.9,2840.9 1952.2,2838.4 1953.6,2837.9 1955.0,2836.0 1956.4,2834.0 1957.7,2835.0 1959.1,2839.9 1960.5,2841.0 1961.8,2842.6 1963.2,2841.7 1964.6,2843.7 1965.9,2844.4 1967.3,2844.9 1968.7,2843.7 1970.0,2844.4 1971.4,2846.1 1972.8,2848.2 1974.1,2846.4 1975.5,2840.0 1976.9,2831.9 1978.2,2829.2 1979.6,2835.5 1981.0,2841.0 1982.3,2840.7 1983.7,2838.4 1985.1,2836.0 1986.4,2835.4 1987.8,2837.1 1989.2,2838.5 1990.5,2833.6 1991.9,2839.2 1993.3,2834.0 1994.6,2837.1 1996.0,2836.9 1997.4,2837.5 1998.7,2834.8 2000.1,2834.3 2001.5,2837.7 2002.8,2836.2 2004.2,2849.2 2005.6,2838.6 2006.9,2836.9 2008.3,2837.0 2009.7,2834.2 2011.0,2828.4 2012.4,2837.5 2013.8,2840.0 2015.1,2832.7 2016.5,2839.5 2017.9,2834.2 2019.2,2839.8 2020.6,2842.0 2022.0,2842.4 2023.3,2842.1 2024.7,2837.5 2026.1,2844.4 2027.4,2839.8 2028.8,2842.8 2030.2,2843.9 2031.6,2838.6 2032.9,2835.0 2034.3,2841.5 2035.7,2835.3 2037.0,2835.6 2038.4,2835.6 2039.8,2842.1 2041.1,2838.5 2042.5,2831.9 2043.9,2842.5 2045.2,2849.5 2046.6,2847.7 2048.0,2839.5 2049.3,2840.2 2050.7,2842.8 2052.1,2843.9 2053.4,2840.0 2054.8,2837.5 2056.2,2842.5 2057.5,2841.4 2058.9,2836.0 2060.3,2837.2 2061.6,2840.0 2063.0,2840.6 2064.4,2842.6 2065.7,2843.8 2067.1,2842.7" fill="none" stroke="#FF0000" stroke-width="3.9" stroke-linejoin="miter" stroke-miterlimit="5"/>
<polyline points="358.0,3096.3 359.4,3101.4 360.7,3100.0 362.1,3100.1 363.5,3104.1 364.8,3091.5 366.2,3094.1 367.6,3091.1 368.9,3096.5 370.3,3101.4 371.7,3096.7 373.0,3099.2 374.4,3088.5 375.8,3098.0 377.1,3093.3 378.5,3105.8 379.9,3101.9 381.2,3102.2 382.6,3097.3 384.0,3100.0 385.3,3099.8 386.7,3095.0 388.1,3094.6 389.4,3096.3 390.8,3093.9 392.2,3094.2 393.5,3095.5 394.9,3092.8 396.3,3099.5 397.7,3088.5 399.0,3100.2 400.4,3093.3 401.8,3093.2 403.1,3089.2 404.5,3094.8 405.9,3093.9 407.2,3095.0 408.6,3092.0 410.0,3094.2 411.3,3102.1 412.7,3096.3 414.1,3091.5 415.4,3098.8 416.8,3093.3 418.2,3096.3 419.5,3096.3 420.9,3091.5 422.3,3084.0 423.6,3090.7 425.0,3095.2 426.4,3091.3 427.7,3095.4 429.1,3097.9 430.5,3090.9 431.8,3099.7 433.2,3102.0 434.6,3099.8 435.9,3100.2 437.3,3100.1 438.7,3105.5 440.0,3095.1 441.4,3093.3 442.8,3095.9 444.1,3088.4 445.5,3085.4 446.9,3088.6 448.2,3094.5 449.6,3096.0 451.0,3086.0 452.3,3085.0 453.7,3091.9 455.1,3092.0 456.4,3093.2 457.8,3096.0 459.2,3098.3 460.5,3093.7 461.9,3095.5 463.3,3087.9 464.6,3087.4 466.0,3094.2 467.4,3095.7 468.7,3095.6 470.1,3094.5 471.5,3094.8 472.9,3095.5 474.2,3083.6 475.6,3088.4 477.0,3094.1 478.3,3094.3 479.7,3083.9 481.1,3096.5 482.4,3089.5 483.8,3090.5 485.2,3093.0 486.5,3095.6 487.9,3085.9 489.3,3096.9 490.6,3092.7 492.0,3088.2 493.4,3090.8 494.7,3081.9 496.1,3089.5 497.5,3092.9 498.8,3088.4 500.2,3090.1 501.6,3091.2 502.9,3092.5 504.3,3097.4 505.7,3092.4 507.0,3091.1 508.4,3094.7 509.8,3101.6 511.1,3090.6 512.5,3094.9 513.9,3085.5 515.2,3098.8 516.6,3095.4 518.0,3098.3 519.3,3091.3 520.7,3087.4 522.1,3097.0 523.4,3096.1 524.8,3088.7 526.2,3086.5 527.5,3095.0 528.9,3092.7 530.3,3105.2 531.6,3089.7 533.0,3090.5 534.4,3092.3 535.7,3085.3 537.1,3088.7 538.5,3100.7 539.8,3092.8 541.2,3090.8 542.6,3087.5 544.0,3096.1 545.3,3096.3 546.7,3093.8 548.1,3091.3 549.4,3094.3 550.8,3095.0 552.2,3090.5 553.5,3096.6 554.9,3083.7 556.3,3087.5 557.6,3091.3 559.0,3092.5 560.4,3087.4 561.7,3094.4 563.1,3096.9 564.5,3094.4 565.8,3093.8 567.2,3096.5 568.6,3094.3 569.9,3087.3 571.3,3091.5 572.7,3097.8 574.0,3087.2 575.4,3092.6 576.8,3090.9 578.1,3088.2 579.5,3087.5 580.9,3092.0 582.2,3093.2 583.6,3093.0 585.0,3085.5 586.3,3091.0 587.7,3094.3 589.1,3096.7 590.4,3094.8 591.8,3096.1 593.2,3097.3 594.5,3095.9 595.9,3088.0 597.3,3092.2 598.6,3088.7 600.0,3081.6 601.4,3084.5 602.7,3101.9 604.1,3087.4 605.5,3082.8 606.8,3089.8 608.2,3099.7 609.6,3092.6 610.9,3094.5 612.3,3091.7 613.7,3092.8 615.0,3099.8 616.4,3097.9 617.8,3093.8 619.2,3098.0 620.5,3098.9 621.9,3093.5 623.3,3096.1 624.6,3096.3 626.0,3091.9 627.4,3100.3 628.7,3094.1 630.1,3092.3 631.5,3087.8 632.8,3090.2 634.2,3102.4 635.6,3090.0 636.9,3097.3 638.3,3094.2 639.7,3097.8 641.0,3098.0 642.4,3091.7 643.8,3093.9 645.1,3095.6 646.5,3095.5 647.9,3094.6 649.2,3093.8 650.6,3097.9 652.0,3100.9 653.3,3097.9 654.7,3091.5 656.1,3095.9 657.4,3094.2 658.8,3095.7 660.2,3102.1 661.5,3092.4 662.9,3093.6 664.3,3089.0 665.6,3092.0 667.0,3090.2 668.4,3100.1 669.7,3093.5 671.1,3089.4 672.5,3100.9 673.8,3085.3 675.2,3094.8 676.6,3096.1 677.9,3094.4 679.3,3090.6 680.7,3090.8 682.0,3090.2 683.4,3095.4 684.8,3080.9 686.1,3089.4 687.5,3092.5 688.9,3088.5 690.2,3082.8 691.6,3089.6 693.0,3087.2 694.4,3094.2 695.7,3096.2 697.1,3089.9 698.5,3082.0 699.8,3090.5 701.2,3087.1 702.6,3094.7 703.9,3099.1 705.3,3092.8 706.7,3101.5 708.0,3098.7 709.4,3094.6 710.8,3087.4 712.1,3092.4 713.5,3085.3 714.9,3096.1 716.2,3092.3 717.6,3097.8 719.0,3092.5 720.3,3081.9 721.7,3093.4 723.1,3095.0 724.4,3098.4 725.8,3087.0 727.2,3087.4 728.5,3091.6 729.9,3086.1 731.3,3085.6 732.6,3087.2 734.0,3104.5 735.4,3089.5 736.7,3087.7 738.1,3090.9 739.5,3093.3 740.8,3098.2 742.2,3096.4 743.6,3095.9 744.9,3091.8 746.3,3092.9 747.7,3089.3 749.0,3085.0 750.4,3101.4 751.8,3090.5 753.1,3097.1 754.5,3090.9 755.9,3091.7 757.2,3091.6 758.6,3085.8 760.0,3092.2 761.3,3095.0 762.7,3097.3 764.1,3097.0 765.4,3099.1 766.8,3095.6 768.2,3093.7 769.6,3084.8 770.9,3091.4 772.3,3101.9 773.7,3094.6 775.0,3097.9 776.4,3092.9 777.8,3090.3 779.1,3103.4 780.5,3095.4 781.9,3100.5 783.2,3096.1 784.6,3091.9 786.0,3083.3 787.3,3093.8 788.7,3087.0 790.1,3084.9 791.4,3098.6 792.8,3098.2 794.2,3097.5 795.5,3095.0 796.9,3094.6 798.3,3095.9 799.6,3094.7 801.0,3094.1 802.4,3095.4 803.7,3083.0 805.1,3095.2 806.5,3089.1 807.8,3095.7 809.2,3096.9 810.6,3089.0 811.9,3095.6 813.3,3095.8 814.7,3088.1 816.0,3088.8 817.4,3091.3 818.8,3081.0 820.1,3089.4 821.5,3091.7 822.9,3088.2 824.2,3083.2 825.6,3088.6 827.0,3096.9 828.3,3096.2 829.7,3089.1 831.1,3085.7 832.4,3089.0 833.8,3088.7 835.2,3084.8 836.5,3086.2 837.9,3090.7 839.3,3092.1 840.6,3077.3 842.0,3093.2 843.4,3089.9 844.8,3095.3 846.1,3089.4 847.5,3091.5 848.9,3097.1 850.2,3074.9 851.6,3095.9 853.0,3089.1 854.3,3080.1 855.7,3075.9 857.1,3089.3 858.4,3083.4 859.8,3092.6 861.2,3088.5 862.5,3087.3 863.9,3092.6 865.3,3089.7 866.6,3091.9 868.0,3092.7 869.4,3090.3 870.7,3092.3 872.1,3092.1 873.5,3081.9 874.8,3087.0 876.2,3088.1 877.6,3087.2 878.9,3080.9 880.3,3085.7 881.7,3090.1 883.0,3088.9 884.4,3094.7 885.8,3084.3 887.1,3084.8 888.5,3084.3 889.9,3085.6 891.2,3084.6 892.6,3079.0 894.0,3088.2 895.3,3091.0 896.7,3090.8 898.1,3082.5 899.4,3086.0 900.8,3092.8 902.2,3087.3 903.5,3086.4 904.9,3085.6 906.3,3089.2 907.6,3091.5 909.0,3093.8 910.4,3089.1 911.7,3084.0 913.1,3079.5 914.5,3078.4 915.9,3078.9 917.2,3077.8 918.6,3079.6 920.0,3080.1 921.3,3081.2 922.7,3077.4 924.1,3077.8 925.4,3081.7 926.8,3083.8 928.2,3082.2 929.5,3080.3 930.9,3080.7 932.3,3080.8 933.6,3079.0 935.0,3077.5 936.4,3076.1 937.7,3075.1 939.1,3072.8 940.5,3074.3 941.8,3076.6 943.2,3077.8 944.6,3078.3 945.9,3077.9 947.3,3076.5 948.7,3075.4 950.0,3076.0 951.4,3078.0 952.8,3079.0 954.1,3074.6 955.5,3071.4 956.9,3076.6 958.2,3081.1 959.6,3078.1 961.0,3075.5 962.3,3078.1 963.7,3078.9 965.1,3077.1 966.4,3072.8 967.8,3070.5 969.2,3071.8 970.5,3071.9 971.9,3070.8 973.3,3071.8 974.6,3075.3 976.0,3080.8 977.4,3083.1 978.7,3081.0 980.1,3076.7 981.5,3075.7 982.8,3079.0 984.2,3082.4 985.6,3082.8 986.9,3081.0 988.3,3079.5 989.7,3079.0 991.1,3077.1 992.4,3077.8 993.8,3078.6 995.2,3078.5 996.5,3080.5 997.9,3083.9 999.3,3084.0 1000.6,3080.8 1002.0,3078.6 1003.4,3077.8 1004.7,3080.8 1006.1,3082.4 1007.5,3082.7 1008.8,3084.6 1010.2,3086.6 1011.6,3084.8 1012.9,3079.8 1014.3,3078.4 1015.7,3079.1 1017.0,3082.0 1018.4,3085.1 1019.8,3083.7 1021.1,3079.3 1022.5,3077.0 1023.9,3076.5 1025.2,3080.0 1026.6,3085.3 1028.0,3083.9 1029.3,3080.4 1030.7,3078.0 1032.1,3074.5 1033.4,3079.2 1034.8,3080.3 1036.2,3082.2 1037.5,3078.0 1038.9,3075.2 1040.3,3075.2 1041.6,3074.3 1043.0,3078.6 1044.4,3076.3 1045.7,3075.6 1047.1,3073.6 1048.5,3070.3 1049.8,3071.1 1051.2,3070.0 1052.6,3073.8 1053.9,3066.6 1055.3,3065.7 1056.7,3060.6 1058.0,3058.3 1059.4,3057.2 1060.8,3061.1 1062.1,3053.5 1063.5,3054.4 1064.9,3045.3 1066.3,3041.1 1067.6,3030.0 1069.0,3038.3 1070.4,3040.2 1071.7,3025.9 1073.1,3029.6 1074.5,3023.4 1075.8,3013.5 1077.2,3019.1 1078.6,3010.5 1079.9,3013.5 1081.3,3021.9 1082.7,3019.8 1084.0,3016.1 1085.4,3031.0 1086.8,3022.7 1088.1,3029.2 1089.5,3031.5 1090.9,3036.0 1092.2,3035.7 1093.6,3034.0 1095.0,3051.7 1096.3,3040.5 1097.7,3042.1 1099.1,3036.6 1100.4,3049.6 1101.8,3055.6 1103.2,3057.0 1104.5,3063.6 1105.9,3057.8 1107.3,3052.8 1108.6,3051.1 1110.0,3056.8 1111.4,3052.0 1112.7,3051.4 1114.1,3047.4 1115.5,3052.0 1116.8,3058.6 1118.2,3052.5 1119.6,3049.7 1120.9,3043.2 1122.3,3052.7 1123.7,3053.0 1125.0,3053.6 1126.4,3049.3 1127.8,3044.0 1129.1,3042.4 1130.5,3046.8 1131.9,3045.2 1133.2,3041.5 1134.6,3041.6 1136.0,3042.6 1137.3,3043.8 1138.7,3039.7 1140.1,3036.0 1141.5,3036.0 1142.8,3037.6 1144.2,3037.9 1145.6,3033.0 1146.9,3028.2 1148.3,3029.1 1149.7,3030.1 1151.0,3030.1 1152.4,3027.3 1153.8,3023.2 1155.1,3022.8 1156.5,3020.4 1157.9,3016.0 1159.2,3015.3 1160.6,3014.3 1162.0,3008.3 1163.3,3005.9 1164.7,3006.3 1166.1,3006.3 1167.4,3003.9 1168.8,2997.1 1170.2,2997.5 1171.5,2997.7 1172.9,2996.5 1174.3,2986.5 1175.6,2979.6 1177.0,2973.9 1178.4,2978.5 1179.7,2976.7 1181.1,2965.3 1182.5,2964.7 1183.8,2960.8 1185.2,2955.6 1186.6,2944.3 1187.9,2943.2 1189.3,2933.0 1190.7,2921.3 1192.0,2917.9 1193.4,2909.7 1194.8,2894.1 1196.1,2890.5 1197.5,2887.4 1198.9,2859.8 1200.2,2857.7 1201.6,2846.1 1203.0,2828.5 1204.3,2815.4 1205.7,2797.0 1207.1,2788.2 1208.4,2760.4 1209.8,2746.1 1211.2,2718.7 1212.5,2709.3 1213.9,2688.0 1215.3,2656.0 1216.7,2636.5 1218.0,2617.9 1219.4,2588.7 1220.8,2559.2 1222.1,2527.2 1223.5,2512.9 1224.9,2493.0 1226.2,2455.5 1227.6,2433.1 1229.0,2407.1 1230.3,2379.5 1231.7,2357.3 1233.1,2336.2 1234.4,2314.3 1235.8,2314.4 1237.2,2304.1 1238.5,2285.8 1239.9,2288.9 1241.3,2277.3 1242.6,2283.8 1244.0,2297.5 1245.4,2298.1 1246.7,2311.5 1248.1,2336.2 1249.5,2344.7 1250.8,2382.7 1252.2,2402.5 1253.6,2424.6 1254.9,2450.4 1256.3,2469.5 1257.7,2495.4 1259.0,2527.1 1260.4,2553.4 1261.8,2575.1 1263.1,2597.3 1264.5,2621.0 1265.9,2647.0 1267.2,2662.2 1268.6,2681.6 1270.0,2702.1 1271.3,2718.5 1272.7,2736.1 1274.1,2758.6 1275.4,2782.4 1276.8,2801.4 1278.2,2810.7 1279.5,2819.3 1280.9,2832.6 1282.3,2847.6 1283.6,2859.6 1285.0,2871.8 1286.4,2880.2 1287.8,2886.6 1289.1,2896.1 1290.5,2910.0 1291.9,2920.0 1293.2,2927.2 1294.6,2932.2 1296.0,2936.7 1297.3,2942.6 1298.7,2949.2 1300.1,2954.6 1301.4,2961.5 1302.8,2970.9 1304.2,2976.1 1305.5,2978.2 1306.9,2983.2 1308.3,2989.2 1309.6,2991.4 1311.0,2994.7 1312.4,2996.3 1313.7,2994.1 1315.1,2998.3 1316.5,3006.6 1317.8,3011.7 1319.2,3015.0 1320.6,3013.7 1321.9,3019.6 1323.3,3023.6 1324.7,3026.2 1326.0,3019.6 1327.4,3021.4 1328.8,3025.5 1330.1,3027.4 1331.5,3024.3 1332.9,3026.6 1334.2,3026.9 1335.6,3041.1 1337.0,3034.1 1338.3,3035.2 1339.7,3034.3 1341.1,3038.2 1342.4,3041.9 1343.8,3038.3 1345.2,3040.5 1346.5,3050.5 1347.9,3045.9 1349.3,3043.8 1350.6,3041.4 1352.0,3042.9 1353.4,3040.8 1354.7,3045.9 1356.1,3042.8 1357.5,3043.0 1358.8,3044.6 1360.2,3043.2 1361.6,3049.9 1363.0,3060.3 1364.3,3047.4 1365.7,3043.6 1367.1,3055.0 1368.4,3051.5 1369.8,3060.8 1371.2,3055.8 1372.5,3057.8 1373.9,3051.9 1375.3,3048.8 1376.6,3055.1 1378.0,3059.7 1379.4,3054.0 1380.7,3050.8 1382.1,3054.5 1383.5,3056.3 1384.8,3058.2 1386.2,3061.1 1387.6,3068.6 1388.9,3062.4 1390.3,3058.1 1391.7,3057.8 1393.0,3061.1 1394.4,3060.2 1395.8,3064.8 1397.1,3062.8 1398.5,3059.5 1399.9,3061.4 1401.2,3065.5 1402.6,3064.4 1404.0,3062.8 1405.3,3062.9 1406.7,3066.2 1408.1,3064.8 1409.4,3062.2 1410.8,3064.9 1412.2,3069.9 1413.5,3067.3 1414.9,3062.8 1416.3,3062.0 1417.6,3062.1 1419.0,3060.5 1420.4,3062.6 1421.7,3064.7 1423.1,3065.9 1424.5,3065.0 1425.8,3063.5 1427.2,3060.2 1428.6,3062.2 1429.9,3063.9 1431.3,3063.7 1432.7,3064.5 1434.0,3067.5 1435.4,3069.7 1436.8,3071.9 1438.2,3071.0 1439.5,3069.9 1440.9,3068.0 1442.3,3067.0 1443.6,3067.8 1445.0,3069.6 1446.4,3070.0 1447.7,3071.9 1449.1,3072.0 1450.5,3070.1 1451.8,3067.7 1453.2,3068.1 1454.6,3067.1 1455.9,3068.7 1457.3,3069.4 1458.7,3069.5 1460.0,3071.5 1461.4,3075.8 1462.8,3073.6 1464.1,3068.9 1465.5,3068.0 1466.9,3073.4 1468.2,3075.1 1469.6,3074.6 1471.0,3072.2 1472.3,3072.5 1473.7,3072.4 1475.1,3070.4 1476.4,3068.5 1477.8,3068.3 1479.2,3070.2 1480.5,3072.7 1481.9,3071.4 1483.3,3069.3 1484.6,3067.0 1486.0,3068.1 1487.4,3066.1 1488.7,3065.7 1490.1,3069.2 1491.5,3073.2 1492.8,3070.6 1494.2,3068.3 1495.6,3068.1 1496.9,3067.8 1498.3,3068.4 1499.7,3070.3 1501.0,3072.9 1502.4,3075.0 1503.8,3074.1 1505.1,3069.9 1506.5,3067.9 1507.9,3065.3 1509.2,3065.4 1510.6,3069.8 1512.0,3075.1 1513.4,3073.6 1514.7,3072.3 1516.1,3072.6 1517.5,3072.5 1518.8,3071.8 1520.2,3072.9 1521.6,3074.7 1522.9,3072.6 1524.3,3070.5 1525.7,3070.4 1527.0,3068.9 1528.4,3067.4 1529.8,3068.8 1531.1,3067.5 1532.5,3062.9 1533.9,3066.4 1535.2,3073.6 1536.6,3078.0 1538.0,3075.9 1539.3,3076.5 1540.7,3077.0 1542.1,3075.3 1543.4,3072.0 1544.8,3074.4 1546.2,3080.3 1547.5,3081.2 1548.9,3076.4 1550.3,3070.5 1551.6,3070.1 1553.0,3074.1 1554.4,3075.3 1555.7,3073.3 1557.1,3072.7 1558.5,3074.3 1559.8,3075.2 1561.2,3071.0 1562.6,3068.0 1563.9,3071.0 1565.3,3075.8 1566.7,3077.8 1568.0,3077.4 1569.4,3075.1 1570.8,3071.1 1572.1,3072.1 1573.5,3072.0 1574.9,3070.4 1576.2,3069.8 1577.6,3072.9 1579.0,3072.7 1580.3,3071.3 1581.7,3066.3 1583.1,3063.0 1584.5,3063.1 1585.8,3065.6 1587.2,3066.2 1588.6,3067.9 1589.9,3069.4 1591.3,3068.3 1592.7,3063.3 1594.0,3065.1 1595.4,3067.7 1596.8,3063.6 1598.1,3060.5 1599.5,3063.3 1600.9,3070.2 1602.2,3066.9 1603.6,3069.5 1605.0,3064.3 1606.3,3065.9 1607.7,3057.3 1609.1,3059.5 1610.4,3062.3 1611.8,3066.8 1613.2,3062.5 1614.5,3062.3 1615.9,3055.5 1617.3,3055.1 1618.6,3060.6 1620.0,3061.0 1621.4,3060.0 1622.7,3057.8 1624.1,3052.8 1625.5,3059.9 1626.8,3054.2 1628.2,3054.9 1629.6,3050.7 1630.9,3040.3 1632.3,3037.3 1633.7,3038.5 1635.0,3044.4 1636.4,3047.4 1637.8,3043.6 1639.1,3041.9 1640.5,3035.5 1641.9,3033.2 1643.2,3032.4 1644.6,3031.3 1646.0,3028.0 1647.3,3028.2 1648.7,3028.2 1650.1,3023.9 1651.4,3020.1 1652.8,3016.8 1654.2,3014.2 1655.5,3014.4 1656.9,3016.0 1658.3,3012.7 1659.7,3006.1 1661.0,3004.9 1662.4,3006.5 1663.8,3005.9 1665.1,3003.9 1666.5,3000.1 1667.9,2994.3 1669.2,2989.4 1670.6,2987.7 1672.0,2986.2 1673.3,2985.7 1674.7,2983.5 1676.1,2975.8 1677.4,2965.0 1678.8,2956.1 1680.2,2951.9 1681.5,2952.0 1682.9,2949.6 1684.3,2941.7 1685.6,2935.8 1687.0,2937.8 1688.4,2939.6 1689.7,2938.3 1691.1,2935.1 1692.5,2926.7 1693.8,2919.6 1695.2,2914.9 1696.6,2908.9 1697.9,2908.0 1699.3,2912.7 1700.7,2913.2 1702.0,2907.8 1703.4,2900.6 1704.8,2894.7 1706.1,2891.9 1707.5,2884.3 1708.9,2889.7 1710.2,2890.6 1711.6,2886.3 1713.0,2884.8 1714.3,2880.6 1715.7,2889.1 1717.1,2888.7 1718.4,2877.5 1719.8,2885.9 1721.2,2893.1 1722.5,2900.2 1723.9,2892.3 1725.3,2898.3 1726.6,2907.3 1728.0,2906.2 1729.4,2906.2 1730.7,2908.6 1732.1,2914.8 1733.5,2914.4 1734.9,2926.4 1736.2,2921.7 1737.6,2932.7 1739.0,2938.3 1740.3,2944.1 1741.7,2942.7 1743.1,2946.7 1744.4,2952.0 1745.8,2955.4 1747.2,2964.4 1748.5,2962.6 1749.9,2976.3 1751.3,2984.4 1752.6,2972.2 1754.0,2980.9 1755.4,2977.2 1756.7,2989.1 1758.1,2991.2 1759.5,2991.0 1760.8,2990.8 1762.2,2998.8 1763.6,3011.2 1764.9,3012.7 1766.3,3010.4 1767.7,3008.5 1769.0,3014.1 1770.4,3013.1 1771.8,3012.7 1773.1,3017.0 1774.5,3026.1 1775.9,3026.6 1777.2,3028.4 1778.6,3024.6 1780.0,3024.5 1781.3,3037.4 1782.7,3033.1 1784.1,3042.2 1785.4,3034.7 1786.8,3044.3 1788.2,3041.7 1789.5,3040.4 1790.9,3041.5 1792.3,3053.7 1793.6,3050.1 1795.0,3046.0 1796.4,3049.3 1797.7,3043.0 1799.1,3059.1 1800.5,3058.3 1801.8,3051.6 1803.2,3056.2 1804.6,3042.5 1805.9,3060.7 1807.3,3058.4 1808.7,3057.5 1810.1,3060.9 1811.4,3059.5 1812.8,3055.1 1814.2,3057.2 1815.5,3060.4 1816.9,3065.9 1818.3,3062.3 1819.6,3059.7 1821.0,3065.7 1822.4,3059.4 1823.7,3075.7 1825.1,3067.7 1826.5,3062.4 1827.8,3068.2 1829.2,3073.4 1830.6,3071.3 1831.9,3079.2 1833.3,3063.7 1834.7,3078.3 1836.0,3071.7 1837.4,3076.3 1838.8,3080.5 1840.1,3066.8 1841.5,3066.4 1842.9,3072.2 1844.2,3066.6 1845.6,3065.4 1847.0,3075.1 1848.3,3080.6 1849.7,3073.7 1851.1,3079.1 1852.4,3094.0 1853.8,3078.4 1855.2,3075.5 1856.5,3076.7 1857.9,3079.3 1859.3,3077.0 1860.6,3082.3 1862.0,3080.7 1863.4,3083.8 1864.7,3080.1 1866.1,3079.4 1867.5,3076.0 1868.8,3074.7 1870.2,3079.6 1871.6,3079.4 1872.9,3083.1 1874.3,3081.0 1875.7,3079.9 1877.0,3092.1 1878.4,3083.7 1879.8,3087.6 1881.1,3077.9 1882.5,3087.0 1883.9,3088.1 1885.3,3084.4 1886.6,3079.7 1888.0,3087.9 1889.4,3080.4 1890.7,3076.4 1892.1,3077.0 1893.5,3083.4 1894.8,3083.3 1896.2,3088.5 1897.6,3088.3 1898.9,3090.5 1900.3,3086.7 1901.7,3084.7 1903.0,3083.6 1904.4,3080.4 1905.8,3079.8 1907.1,3080.9 1908.5,3084.4 1909.9,3081.4 1911.2,3084.1 1912.6,3087.5 1914.0,3075.3 1915.3,3079.0 1916.7,3080.3 1918.1,3083.3 1919.4,3078.6 1920.8,3081.4 1922.2,3092.3 1923.5,3079.3 1924.9,3083.1 1926.3,3085.2 1927.6,3083.5 1929.0,3080.1 1930.4,3088.5 1931.7,3076.7 1933.1,3080.7 1934.5,3084.2 1935.8,3082.3 1937.2,3091.0 1938.6,3084.4 1939.9,3095.4 1941.3,3086.3 1942.7,3093.6 1944.0,3088.2 1945.4,3085.4 1946.8,3085.0 1948.1,3091.4 1949.5,3084.2 1950.9,3086.4 1952.2,3083.1 1953.6,3077.1 1955.0,3089.7 1956.4,3089.6 1957.7,3082.3 1959.1,3090.0 1960.5,3086.7 1961.8,3080.0 1963.2,3085.1 1964.6,3092.8 1965.9,3094.9 1967.3,3091.6 1968.7,3102.7 1970.0,3090.7 1971.4,3086.2 1972.8,3082.8 1974.1,3097.4 1975.5,3087.9 1976.9,3088.6 1978.2,3087.7 1979.6,3087.1 1981.0,3088.9 1982.3,3093.2 1983.7,3093.6 1985.1,3093.5 1986.4,3097.3 1987.8,3090.7 1989.2,3088.0 1990.5,3091.6 1991.9,3082.3 1993.3,3095.8 1994.6,3093.4 1996.0,3093.9 1997.4,3086.3 1998.7,3089.6 2000.1,3091.8 2001.5,3087.3 2002.8,3087.3 2004.2,3090.5 2005.6,3092.7 2006.9,3088.7 2008.3,3096.6 2009.7,3102.8 2011.0,3094.6 2012.4,3091.7 2013.8,3090.5 2015.1,3099.7 2016.5,3093.2 2017.9,3095.5 2019.2,3093.7 2020.6,3089.2 2022.0,3099.0 2023.3,3090.9 2024.7,3092.5 2026.1,3082.3 2027.4,3102.4 2028.8,3095.4 2030.2,3091.6 2031.6,3088.9 2032.9,3090.5 2034.3,3086.1 2035.7,3096.3 2037.0,3090.1 2038.4,3096.4 2039.8,3096.8 2041.1,3103.9 2042.5,3095.7 2043.9,3096.7 2045.2,3097.1 2046.6,3092.9 2048.0,3093.9 2049.3,3097.1 2050.7,3100.4 2052.1,3098.8 2053.4,3097.4 2054.8,3099.0 2056.2,3094.8 2057.5,3094.0 2058.9,3098.3 2060.3,3097.8 2061.6,3093.0 2063.0,3091.8 2064.4,3096.1 2065.7,3100.2 2067.1,3099.3" fill="none" stroke="#05629E" stroke-width="3.9" stroke-linejoin="miter" stroke-miterlimit="5"/>
<polyline points="358.0,3339.1 359.4,3319.9 360.7,3335.8 362.1,3332.7 363.5,3338.2 364.8,3334.4 366.2,3340.6 367.6,3333.3 368.9,3331.2 370.3,3335.6 371.7,3334.4 373.0,3331.9 374.4,3332.9 375.8,3336.4 377.1,3336.7 378.5,3331.7 379.9,3332.9 381.2,3326.4 382.6,3340.4 384.0,3333.4 385.3,3340.3 386.7,3336.7 388.1,3342.7 389.4,3341.2 390.8,3335.9 392.2,3340.9 393.5,3331.0 394.9,3339.7 396.3,3328.2 397.7,3336.1 399.0,3339.2 400.4,3336.3 401.8,3332.4 403.1,3331.4 404.5,3332.7 405.9,3337.6 407.2,3336.9 408.6,3331.5 410.0,3327.3 411.3,3335.3 412.7,3326.5 414.1,3331.0 415.4,3329.5 416.8,3334.9 418.2,3333.1 419.5,3333.8 420.9,3333.2 422.3,3329.0 423.6,3334.3 425.0,3338.4 426.4,3331.6 427.7,3334.1 429.1,3331.1 430.5,3335.8 431.8,3333.2 433.2,3334.2 434.6,3332.3 435.9,3337.6 437.3,3329.4 438.7,3329.8 440.0,3328.1 441.4,3333.3 442.8,3327.8 444.1,3328.5 445.5,3333.9 446.9,3335.9 448.2,3333.8 449.6,3320.8 451.0,3328.4 452.3,3327.5 453.7,3326.2 455.1,3329.8 456.4,3339.0 457.8,3330.6 459.2,3328.8 460.5,3334.8 461.9,3332.1 463.3,3332.0 464.6,3328.8 466.0,3332.0 467.4,3333.4 468.7,3324.6 470.1,3325.8 471.5,3336.7 472.9,3335.7 474.2,3331.0 475.6,3328.9 477.0,3331.4 478.3,3327.0 479.7,3331.0 481.1,3339.2 482.4,3333.6 483.8,3337.8 485.2,3332.0 486.5,3334.2 487.9,3338.2 489.3,3327.3 490.6,3331.6 492.0,3332.2 493.4,3333.9 494.7,3339.5 496.1,3336.0 497.5,3326.9 498.8,3331.5 500.2,3328.4 501.6,3328.5 502.9,3340.9 504.3,3328.0 505.7,3333.5 507.0,3330.1 508.4,3335.9 509.8,3334.1 511.1,3332.5 512.5,3332.3 513.9,3337.8 515.2,3329.1 516.6,3330.1 518.0,3328.5 519.3,3339.6 520.7,3332.0 522.1,3328.3 523.4,3330.6 524.8,3342.4 526.2,3332.1 527.5,3336.4 528.9,3334.7 530.3,3332.5 531.6,3329.6 533.0,3331.1 534.4,3330.8 535.7,3323.4 537.1,3343.6 538.5,3337.3 539.8,3334.4 541.2,3332.8 542.6,3330.8 544.0,3338.6 545.3,3333.9 546.7,3336.7 548.1,3328.8 549.4,3335.6 550.8,3342.4 552.2,3332.7 553.5,3336.8 554.9,3333.2 556.3,3337.3 557.6,3336.9 559.0,3332.3 560.4,3329.2 561.7,3332.1 563.1,3332.2 564.5,3329.7 565.8,3333.3 567.2,3333.2 568.6,3327.0 569.9,3329.8 571.3,3342.0 572.7,3334.1 574.0,3331.3 575.4,3341.4 576.8,3329.8 578.1,3321.3 579.5,3323.0 580.9,3323.9 582.2,3330.6 583.6,3333.9 585.0,3321.2 586.3,3333.7 587.7,3323.7 589.1,3330.1 590.4,3331.3 591.8,3331.0 593.2,3329.8 594.5,3330.3 595.9,3325.5 597.3,3331.6 598.6,3334.8 600.0,3335.2 601.4,3342.5 602.7,3336.8 604.1,3334.8 605.5,3338.6 606.8,3332.6 608.2,3326.6 609.6,3322.9 610.9,3337.5 612.3,3334.4 613.7,3335.4 615.0,3330.2 616.4,3332.8 617.8,3338.9 619.2,3332.2 620.5,3326.5 621.9,3329.3 623.3,3337.2 624.6,3327.1 626.0,3321.0 627.4,3321.5 628.7,3325.7 630.1,3334.3 631.5,3331.5 632.8,3327.8 634.2,3326.0 635.6,3330.4 636.9,3330.3 638.3,3328.8 639.7,3329.8 641.0,3326.7 642.4,3337.0 643.8,3320.1 645.1,3329.5 646.5,3325.6 647.9,3332.4 649.2,3328.6 650.6,3331.9 652.0,3332.0 653.3,3330.6 654.7,3334.4 656.1,3325.1 657.4,3334.8 658.8,3329.5 660.2,3331.6 661.5,3336.0 662.9,3334.0 664.3,3337.4 665.6,3320.2 667.0,3326.4 668.4,3333.9 669.7,3325.5 671.1,3329.3 672.5,3336.9 673.8,3333.2 675.2,3325.7 676.6,3330.6 677.9,3331.5 679.3,3329.7 680.7,3328.7 682.0,3330.0 683.4,3323.6 684.8,3329.8 686.1,3324.5 687.5,3330.6 688.9,3330.7 690.2,3324.9 691.6,3330.6 693.0,3329.2 694.4,3327.7 695.7,3330.5 697.1,3326.1 698.5,3326.0 699.8,3327.2 701.2,3326.8 702.6,3331.8 703.9,3318.4 705.3,3326.1 706.7,3319.0 708.0,3325.2 709.4,3327.6 710.8,3326.7 712.1,3330.4 713.5,3327.7 714.9,3315.8 716.2,3322.8 717.6,3334.5 719.0,3334.9 720.3,3329.3 721.7,3322.2 723.1,3337.4 724.4,3319.7 725.8,3329.9 727.2,3328.8 728.5,3330.2 729.9,3324.1 731.3,3326.9 732.6,3333.8 734.0,3327.9 735.4,3324.1 736.7,3330.3 738.1,3331.6 739.5,3330.8 740.8,3328.3 742.2,3333.7 743.6,3331.0 744.9,3327.0 746.3,3332.1 747.7,3331.5 749.0,3332.7 750.4,3325.2 751.8,3329.0 753.1,3334.0 754.5,3335.6 755.9,3333.4 757.2,3331.8 758.6,3333.7 760.0,3335.1 761.3,3338.3 762.7,3332.2 764.1,3328.0 765.4,3332.2 766.8,3322.3 768.2,3329.9 769.6,3327.5 770.9,3329.8 772.3,3332.1 773.7,3330.3 775.0,3323.8 776.4,3328.3 777.8,3326.7 779.1,3329.7 780.5,3331.1 781.9,3325.0 783.2,3331.7 784.6,3333.5 786.0,3327.5 787.3,3331.3 788.7,3321.9 790.1,3326.4 791.4,3332.6 792.8,3321.0 794.2,3325.9 795.5,3324.5 796.9,3333.7 798.3,3334.3 799.6,3327.1 801.0,3330.5 802.4,3318.8 803.7,3332.9 805.1,3331.3 806.5,3335.1 807.8,3319.7 809.2,3330.7 810.6,3328.8 811.9,3319.8 813.3,3327.1 814.7,3329.4 816.0,3333.2 817.4,3330.7 818.8,3328.0 820.1,3332.1 821.5,3329.6 822.9,3326.8 824.2,3325.8 825.6,3330.7 827.0,3331.1 828.3,3337.8 829.7,3328.6 831.1,3337.2 832.4,3331.5 833.8,3334.8 835.2,3326.5 836.5,3326.4 837.9,3329.1 839.3,3333.8 840.6,3329.5 842.0,3332.1 843.4,3330.3 844.8,3333.2 846.1,3329.8 847.5,3326.8 848.9,3330.6 850.2,3329.2 851.6,3335.5 853.0,3326.7 854.3,3327.8 855.7,3326.3 857.1,3332.4 858.4,3331.4 859.8,3330.9 861.2,3322.8 862.5,3321.4 863.9,3328.4 865.3,3330.1 866.6,3333.6 868.0,3320.3 869.4,3326.2 870.7,3320.0 872.1,3322.7 873.5,3326.2 874.8,3330.2 876.2,3325.6 877.6,3324.3 878.9,3327.0 880.3,3332.6 881.7,3333.0 883.0,3325.9 884.4,3323.5 885.8,3326.6 887.1,3328.8 888.5,3331.2 889.9,3328.7 891.2,3326.1 892.6,3323.9 894.0,3323.9 895.3,3323.6 896.7,3323.0 898.1,3327.0 899.4,3330.6 900.8,3329.0 902.2,3322.8 903.5,3324.9 904.9,3327.4 906.3,3327.6 907.6,3326.9 909.0,3328.5 910.4,3328.3 911.7,3327.3 913.1,3324.4 914.5,3320.7 915.9,3320.0 917.2,3321.8 918.6,3324.6 920.0,3323.8 921.3,3321.3 922.7,3324.3 924.1,3326.8 925.4,3325.3 926.8,3320.5 928.2,3320.6 929.5,3323.2 930.9,3321.1 932.3,3319.2 933.6,3319.8 935.0,3322.6 936.4,3323.6 937.7,3326.8 939.1,3325.8 940.5,3322.1 941.8,3324.3 943.2,3329.6 944.6,3331.3 945.9,3328.5 947.3,3327.1 948.7,3327.2 950.0,3326.5 951.4,3322.2 952.8,3322.3 954.1,3325.1 955.5,3327.9 956.9,3326.8 958.2,3326.1 959.6,3325.6 961.0,3326.2 962.3,3326.0 963.7,3325.9 965.1,3321.5 966.4,3320.4 967.8,3320.7 969.2,3324.2 970.5,3325.2 971.9,3321.8 973.3,3319.5 974.6,3324.2 976.0,3330.6 977.4,3328.6 978.7,3323.7 980.1,3322.4 981.5,3322.5 982.8,3322.1 984.2,3321.4 985.6,3320.2 986.9,3318.6 988.3,3317.9 989.7,3320.2 991.1,3319.7 992.4,3319.5 993.8,3319.2 995.2,3318.8 996.5,3316.5 997.9,3324.5 999.3,3331.7 1000.6,3332.1 1002.0,3327.8 1003.4,3324.8 1004.7,3322.4 1006.1,3321.8 1007.5,3323.3 1008.8,3323.8 1010.2,3326.0 1011.6,3321.6 1012.9,3316.3 1014.3,3316.7 1015.7,3322.2 1017.0,3321.9 1018.4,3322.9 1019.8,3325.5 1021.1,3326.4 1022.5,3324.5 1023.9,3323.7 1025.2,3319.9 1026.6,3315.5 1028.0,3313.4 1029.3,3316.2 1030.7,3319.5 1032.1,3317.3 1033.4,3317.3 1034.8,3319.0 1036.2,3320.3 1037.5,3318.5 1038.9,3319.9 1040.3,3323.0 1041.6,3323.7 1043.0,3320.0 1044.4,3316.6 1045.7,3318.3 1047.1,3322.7 1048.5,3322.0 1049.8,3315.4 1051.2,3306.9 1052.6,3308.6 1053.9,3310.1 1055.3,3308.6 1056.7,3305.6 1058.0,3306.4 1059.4,3303.3 1060.8,3296.4 1062.1,3290.9 1063.5,3291.8 1064.9,3293.2 1066.3,3287.9 1067.6,3280.7 1069.0,3276.9 1070.4,3274.0 1071.7,3269.9 1073.1,3267.9 1074.5,3267.4 1075.8,3261.9 1077.2,3257.8 1078.6,3259.0 1079.9,3261.1 1081.3,3261.8 1082.7,3259.6 1084.0,3259.3 1085.4,3263.9 1086.8,3269.3 1088.1,3271.2 1089.5,3272.9 1090.9,3277.8 1092.2,3281.6 1093.6,3282.8 1095.0,3282.9 1096.3,3286.7 1097.7,3290.2 1099.1,3291.2 1100.4,3289.6 1101.8,3290.0 1103.2,3295.5 1104.5,3300.5 1105.9,3295.9 1107.3,3291.2 1108.6,3291.6 1110.0,3289.4 1111.4,3286.5 1112.7,3288.5 1114.1,3290.4 1115.5,3294.3 1116.8,3297.5 1118.2,3297.0 1119.6,3294.3 1120.9,3290.1 1122.3,3290.9 1123.7,3290.9 1125.0,3294.2 1126.4,3288.2 1127.8,3288.5 1129.1,3294.7 1130.5,3290.4 1131.9,3285.5 1133.2,3286.6 1134.6,3285.7 1136.0,3285.3 1137.3,3286.1 1138.7,3283.6 1140.1,3281.0 1141.5,3278.2 1142.8,3272.3 1144.2,3277.0 1145.6,3282.4 1146.9,3277.2 1148.3,3272.8 1149.7,3273.3 1151.0,3269.8 1152.4,3273.0 1153.8,3277.8 1155.1,3275.7 1156.5,3272.1 1157.9,3269.4 1159.2,3263.2 1160.6,3257.1 1162.0,3260.9 1163.3,3257.1 1164.7,3260.6 1166.1,3256.2 1167.4,3250.5 1168.8,3252.7 1170.2,3259.9 1171.5,3241.7 1172.9,3247.7 1174.3,3241.9 1175.6,3236.3 1177.0,3231.1 1178.4,3231.5 1179.7,3229.4 1181.1,3227.8 1182.5,3223.7 1183.8,3218.9 1185.2,3211.4 1186.6,3210.7 1187.9,3202.4 1189.3,3195.4 1190.7,3198.6 1192.0,3186.3 1193.4,3178.2 1194.8,3176.5 1196.1,3162.6 1197.5,3163.4 1198.9,3157.9 1200.2,3145.9 1201.6,3140.0 1203.0,3138.0 1204.3,3125.9 1205.7,3112.8 1207.1,3099.5 1208.4,3083.6 1209.8,3071.9 1211.2,3058.5 1212.5,3045.2 1213.9,3029.4 1215.3,3013.6 1216.7,2999.5 1218.0,2979.9 1219.4,2962.3 1220.8,2945.0 1222.1,2922.6 1223.5,2900.1 1224.9,2882.9 1226.2,2864.0 1227.6,2839.6 1229.0,2815.2 1230.3,2793.4 1231.7,2768.6 1233.1,2745.3 1234.4,2729.7 1235.8,2716.4 1237.2,2700.1 1238.5,2681.5 1239.9,2668.1 1241.3,2661.3 1242.6,2658.7 1244.0,2657.5 1245.4,2659.4 1246.7,2661.9 1248.1,2666.9 1249.5,2675.1 1250.8,2687.4 1252.2,2702.3 1253.6,2719.5 1254.9,2735.9 1256.3,2752.7 1257.7,2774.1 1259.0,2797.4 1260.4,2818.8 1261.8,2838.4 1263.1,2861.0 1264.5,2886.5 1265.9,2908.1 1267.2,2926.0 1268.6,2943.4 1270.0,2961.9 1271.3,2976.3 1272.7,2994.7 1274.1,3013.4 1275.4,3031.8 1276.8,3048.8 1278.2,3065.1 1279.5,3078.3 1280.9,3087.7 1282.3,3098.5 1283.6,3109.9 1285.0,3120.2 1286.4,3133.1 1287.8,3146.7 1289.1,3156.3 1290.5,3163.4 1291.9,3168.8 1293.2,3174.6 1294.6,3179.9 1296.0,3185.9 1297.3,3192.5 1298.7,3202.6 1300.1,3208.8 1301.4,3214.4 1302.8,3218.9 1304.2,3222.8 1305.5,3228.3 1306.9,3235.3 1308.3,3236.7 1309.6,3236.1 1311.0,3240.9 1312.4,3246.9 1313.7,3249.1 1315.1,3249.4 1316.5,3250.2 1317.8,3252.7 1319.2,3255.8 1320.6,3258.8 1321.9,3258.7 1323.3,3258.1 1324.7,3260.4 1326.0,3264.6 1327.4,3268.6 1328.8,3270.5 1330.1,3271.2 1331.5,3275.6 1332.9,3277.6 1334.2,3277.6 1335.6,3279.4 1337.0,3278.8 1338.3,3279.2 1339.7,3279.6 1341.1,3278.9 1342.4,3283.4 1343.8,3285.4 1345.2,3282.8 1346.5,3284.9 1347.9,3285.8 1349.3,3286.6 1350.6,3289.5 1352.0,3292.8 1353.4,3294.4 1354.7,3295.5 1356.1,3296.0 1357.5,3296.5 1358.8,3295.5 1360.2,3295.2 1361.6,3292.2 1363.0,3292.2 1364.3,3295.6 1365.7,3299.8 1367.1,3300.1 1368.4,3301.8 1369.8,3302.4 1371.2,3300.4 1372.5,3300.2 1373.9,3304.0 1375.3,3303.7 1376.6,3302.2 1378.0,3300.3 1379.4,3300.9 1380.7,3304.5 1382.1,3311.3 1383.5,3311.5 1384.8,3309.0 1386.2,3306.1 1387.6,3304.6 1388.9,3305.7 1390.3,3306.0 1391.7,3304.6 1393.0,3305.6 1394.4,3307.9 1395.8,3308.7 1397.1,3307.5 1398.5,3305.2 1399.9,3304.6 1401.2,3303.7 1402.6,3302.8 1404.0,3305.7 1405.3,3312.6 1406.7,3315.5 1408.1,3309.5 1409.4,3306.2 1410.8,3309.3 1412.2,3312.5 1413.5,3311.9 1414.9,3312.4 1416.3,3310.9 1417.6,3307.0 1419.0,3307.4 1420.4,3308.4 1421.7,3308.4 1423.1,3310.5 1424.5,3314.7 1425.8,3317.4 1427.2,3320.2 1428.6,3320.6 1429.9,3320.2 1431.3,3318.3 1432.7,3317.8 1434.0,3318.5 1435.4,3315.4 1436.8,3312.9 1438.2,3312.9 1439.5,3310.1 1440.9,3313.8 1442.3,3321.3 1443.6,3317.3 1445.0,3313.8 1446.4,3311.8 1447.7,3308.3 1449.1,3312.3 1450.5,3311.9 1451.8,3314.7 1453.2,3315.6 1454.6,3314.3 1455.9,3307.5 1457.3,3321.2 1458.7,3317.7 1460.0,3316.1 1461.4,3314.8 1462.8,3318.6 1464.1,3321.6 1465.5,3318.9 1466.9,3311.0 1468.2,3310.2 1469.6,3305.4 1471.0,3315.3 1472.3,3318.0 1473.7,3320.0 1475.1,3314.8 1476.4,3317.5 1477.8,3310.3 1479.2,3316.5 1480.5,3313.7 1481.9,3311.5 1483.3,3307.4 1484.6,3319.5 1486.0,3306.2 1487.4,3317.8 1488.7,3311.2 1490.1,3317.1 1491.5,3312.3 1492.8,3317.9 1494.2,3313.9 1495.6,3310.3 1496.9,3312.6 1498.3,3307.6 1499.7,3315.1 1501.0,3318.6 1502.4,3316.2 1503.8,3315.0 1505.1,3318.8 1506.5,3309.6 1507.9,3316.6 1509.2,3315.2 1510.6,3312.8 1512.0,3317.1 1513.4,3310.9 1514.7,3313.9 1516.1,3315.4 1517.5,3310.3 1518.8,3313.7 1520.2,3316.5 1521.6,3317.3 1522.9,3312.0 1524.3,3317.8 1525.7,3314.8 1527.0,3315.6 1528.4,3313.5 1529.8,3317.2 1531.1,3313.1 1532.5,3315.4 1533.9,3316.5 1535.2,3316.9 1536.6,3311.7 1538.0,3317.7 1539.3,3316.9 1540.7,3321.3 1542.1,3315.0 1543.4,3312.7 1544.8,3314.4 1546.2,3313.2 1547.5,3313.6 1548.9,3308.7 1550.3,3305.1 1551.6,3306.9 1553.0,3311.6 1554.4,3315.2 1555.7,3312.5 1557.1,3309.8 1558.5,3312.9 1559.8,3314.0 1561.2,3323.6 1562.6,3318.5 1563.9,3313.8 1565.3,3306.8 1566.7,3311.4 1568.0,3311.0 1569.4,3314.2 1570.8,3320.2 1572.1,3311.1 1573.5,3303.1 1574.9,3311.5 1576.2,3304.2 1577.6,3314.3 1579.0,3314.2 1580.3,3310.2 1581.7,3301.9 1583.1,3306.5 1584.5,3312.4 1585.8,3303.3 1587.2,3304.8 1588.6,3308.5 1589.9,3309.2 1591.3,3306.9 1592.7,3308.3 1594.0,3307.4 1595.4,3304.1 1596.8,3306.1 1598.1,3307.3 1599.5,3301.9 1600.9,3307.2 1602.2,3306.8 1603.6,3307.6 1605.0,3306.8 1606.3,3300.3 1607.7,3298.7 1609.1,3303.5 1610.4,3302.0 1611.8,3301.6 1613.2,3298.5 1614.5,3295.7 1615.9,3300.3 1617.3,3299.4 1618.6,3302.1 1620.0,3303.9 1621.4,3304.4 1622.7,3302.3 1624.1,3295.1 1625.5,3290.9 1626.8,3292.6 1628.2,3292.3 1629.6,3292.5 1630.9,3293.2 1632.3,3291.6 1633.7,3294.2 1635.0,3299.0 1636.4,3299.7 1637.8,3298.3 1639.1,3292.4 1640.5,3286.3 1641.9,3282.9 1643.2,3281.6 1644.6,3280.7 1646.0,3280.0 1647.3,3275.7 1648.7,3273.4 1650.1,3274.5 1651.4,3276.9 1652.8,3273.2 1654.2,3268.4 1655.5,3263.9 1656.9,3265.5 1658.3,3261.7 1659.7,3257.6 1661.0,3256.9 1662.4,3257.6 1663.8,3252.5 1665.1,3246.5 1666.5,3244.2 1667.9,3245.3 1669.2,3244.1 1670.6,3239.8 1672.0,3234.7 1673.3,3234.0 1674.7,3233.9 1676.1,3228.8 1677.4,3222.9 1678.8,3218.5 1680.2,3222.4 1681.5,3217.2 1682.9,3208.5 1684.3,3211.3 1685.6,3212.1 1687.0,3207.0 1688.4,3201.9 1689.7,3200.4 1691.1,3192.8 1692.5,3189.6 1693.8,3186.5 1695.2,3184.7 1696.6,3179.1 1697.9,3184.5 1699.3,3176.8 1700.7,3171.2 1702.0,3172.3 1703.4,3172.6 1704.8,3168.8 1706.1,3171.7 1707.5,3164.4 1708.9,3161.2 1710.2,3165.5 1711.6,3167.8 1713.0,3158.0 1714.3,3155.0 1715.7,3158.5 1717.1,3160.7 1718.4,3157.0 1719.8,3162.5 1721.2,3159.2 1722.5,3167.1 1723.9,3160.1 1725.3,3161.9 1726.6,3167.5 1728.0,3172.4 1729.4,3175.4 1730.7,3170.3 1732.1,3175.7 1733.5,3180.3 1734.9,3187.0 1736.2,3180.2 1737.6,3181.7 1739.0,3191.2 1740.3,3190.9 1741.7,3200.3 1743.1,3197.6 1744.4,3202.3 1745.8,3200.4 1747.2,3207.8 1748.5,3215.2 1749.9,3211.5 1751.3,3211.0 1752.6,3222.2 1754.0,3221.2 1755.4,3225.3 1756.7,3225.8 1758.1,3234.6 1759.5,3231.7 1760.8,3235.6 1762.2,3240.1 1763.6,3241.2 1764.9,3237.7 1766.3,3248.6 1767.7,3247.8 1769.0,3254.1 1770.4,3255.0 1771.8,3257.6 1773.1,3258.2 1774.5,3259.5 1775.9,3265.1 1777.2,3269.1 1778.6,3273.8 1780.0,3273.6 1781.3,3273.1 1782.7,3281.4 1784.1,3286.5 1785.4,3282.9 1786.8,3279.9 1788.2,3279.5 1789.5,3282.8 1790.9,3282.3 1792.3,3288.3 1793.6,3287.7 1795.0,3287.5 1796.4,3289.5 1797.7,3286.4 1799.1,3286.1 1800.5,3292.4 1801.8,3296.8 1803.2,3295.7 1804.6,3296.0 1805.9,3293.0 1807.3,3296.4 1808.7,3301.7 1810.1,3302.4 1811.4,3298.2 1812.8,3297.5 1814.2,3301.1 1815.5,3302.5 1816.9,3303.8 1818.3,3303.8 1819.6,3303.1 1821.0,3304.0 1822.4,3308.7 1823.7,3311.7 1825.1,3310.5 1826.5,3307.6 1827.8,3310.2 1829.2,3309.4 1830.6,3304.7 1831.9,3301.6 1833.3,3306.1 1834.7,3311.7 1836.0,3314.6 1837.4,3315.5 1838.8,3314.9 1840.1,3313.9 1841.5,3310.7 1842.9,3310.5 1844.2,3311.0 1845.6,3312.3 1847.0,3314.1 1848.3,3315.6 1849.7,3313.1 1851.1,3312.1 1852.4,3314.2 1853.8,3316.1 1855.2,3315.4 1856.5,3313.7 1857.9,3316.2 1859.3,3318.8 1860.6,3318.4 1862.0,3316.1 1863.4,3314.9 1864.7,3314.4 1866.1,3316.0 1867.5,3317.8 1868.8,3319.9 1870.2,3321.0 1871.6,3320.6 1872.9,3319.5 1874.3,3321.9 1875.7,3320.5 1877.0,3319.2 1878.4,3322.7 1879.8,3324.9 1881.1,3323.8 1882.5,3321.9 1883.9,3322.1 1885.3,3322.6 1886.6,3325.7 1888.0,3323.9 1889.4,3320.9 1890.7,3323.6 1892.1,3327.4 1893.5,3326.6 1894.8,3325.1 1896.2,3325.7 1897.6,3328.4 1898.9,3329.1 1900.3,3327.1 1901.7,3326.7 1903.0,3330.7 1904.4,3334.5 1905.8,3334.6 1907.1,3333.0 1908.5,3327.9 1909.9,3324.8 1911.2,3326.5 1912.6,3326.5 1914.0,3325.5 1915.3,3327.5 1916.7,3329.0 1918.1,3331.2 1919.4,3333.9 1920.8,3331.9 1922.2,3325.8 1923.5,3323.4 1924.9,3327.0 1926.3,3330.1 1927.6,3329.9 1929.0,3328.1 1930.4,3329.3 1931.7,3332.4 1933.1,3329.8 1934.5,3325.8 1935.8,3323.3 1937.2,3323.2 1938.6,3325.1 1939.9,3327.5 1941.3,3327.5 1942.7,3325.3 1944.0,3327.1 1945.4,3329.9 1946.8,3332.4 1948.1,3333.6 1949.5,3331.4 1950.9,3331.6 1952.2,3336.0 1953.6,3337.0 1955.0,3331.3 1956.4,3328.3 1957.7,3331.6 1959.1,3332.5 1960.5,3329.3 1961.8,3329.5 1963.2,3331.2 1964.6,3326.2 1965.9,3322.3 1967.3,3327.2 1968.7,3334.0 1970.0,3336.2 1971.4,3339.0 1972.8,3336.3 1974.1,3329.4 1975.5,3323.0 1976.9,3325.3 1978.2,3329.8 1979.6,3327.1 1981.0,3321.8 1982.3,3322.3 1983.7,3327.3 1985.1,3329.1 1986.4,3328.5 1987.8,3326.7 1989.2,3327.1 1990.5,3330.5 1991.9,3331.2 1993.3,3332.7 1994.6,3330.9 1996.0,3330.3 1997.4,3332.4 1998.7,3331.6 2000.1,3333.0 2001.5,3333.8 2002.8,3331.2 2004.2,3332.6 2005.6,3334.5 2006.9,3336.3 2008.3,3335.7 2009.7,3336.1 2011.0,3336.1 2012.4,3334.4 2013.8,3335.4 2015.1,3332.5 2016.5,3329.8 2017.9,3334.1 2019.2,3330.3 2020.6,3335.6 2022.0,3342.3 2023.3,3339.9 2024.7,3335.1 2026.1,3338.1 2027.4,3337.1 2028.8,3334.5 2030.2,3334.7 2031.6,3333.9 2032.9,3334.3 2034.3,3334.7 2035.7,3331.5 2037.0,3337.7 2038.4,3341.8 2039.8,3335.1 2041.1,3331.2 2042.5,3333.8 2043.9,3337.3 2045.2,3334.3 2046.6,3337.1 2048.0,3340.8 2049.3,3333.9 2050.7,3332.9 2052.1,3331.4 2053.4,3332.3 2054.8,3333.1 2056.2,3331.7 2057.5,3334.4 2058.9,3335.0 2060.3,3337.4 2061.6,3336.1 2063.0,3335.4 2064.4,3337.6 2065.7,3332.5 2067.1,3334.1" fill="none" stroke="#FFC000" stroke-width="3.9" stroke-linejoin="miter" stroke-miterlimit="5"/>
<rect x="358.0" y="2077.0" width="1709.1" height="1376.8" fill="none" stroke="#000" stroke-width="6"/>
<path d="M528.9,2077.0v13M528.9,3453.8v-13M699.8,2077.0v27M699.8,3453.8v-27M870.7,2077.0v13M870.7,3453.8v-13M1041.6,2077.0v27M1041.6,3453.8v-27M1212.5,2077.0v13M1212.5,3453.8v-13M1383.5,2077.0v27M1383.5,3453.8v-27M1554.4,2077.0v13M1554.4,3453.8v-13M1725.3,2077.0v27M1725.3,3453.8v-27M1896.2,2077.0v13M1896.2,3453.8v-13" stroke="#000" stroke-width="5.6" fill="none"/>
<text x="358.0" y="3528.4" font-size="59.5" text-anchor="middle">30</text>
<text x="699.8" y="3528.4" font-size="59.5" text-anchor="middle">35</text>
<text x="1041.6" y="3528.4" font-size="59.5" text-anchor="middle">40</text>
<text x="1383.5" y="3528.4" font-size="59.5" text-anchor="middle">45</text>
<text x="1725.3" y="3528.4" font-size="59.5" text-anchor="middle">50</text>
<text x="2067.1" y="3528.4" font-size="59.5" text-anchor="middle">55</text>
<text x="1214.5" y="3639.5" font-size="71" letter-spacing="0.9" text-anchor="middle">Two-Theta (deg)</text>
<text transform="translate(248,2735) rotate(-90)" font-size="71" letter-spacing="0.5" text-anchor="middle">Intensity (Counts)</text>
<text x="1284.5" y="2209.8" font-size="50.5" letter-spacing="1.2">Cu(1 1 1)</text>
<text x="1680.5" y="2626.9" font-size="50.5" letter-spacing="1.2">Cu(2 0 0)</text>
<text x="937" y="2684.7" font-size="50.5" letter-spacing="1.2">Mo(1 1 0)</text>
<text x="641.5" y="2750.6" font-size="50.5" letter-spacing="1.2">Cu<tspan font-size="33" dy="11">2</tspan><tspan dy="-11">O(1 1 1)</tspan></text>
<text x="467.5" y="2799.8" font-size="50.5" letter-spacing="1.8" stroke="#000" stroke-width="0.6">10 h</text>
<text x="467.5" y="3021.4" font-size="50.5" letter-spacing="1.8" stroke="#000" stroke-width="0.6">20 h</text>
<text x="467.5" y="3278.7" font-size="50.5" letter-spacing="1.8" stroke="#000" stroke-width="0.6">30 h</text>
</svg>
</body></html>
